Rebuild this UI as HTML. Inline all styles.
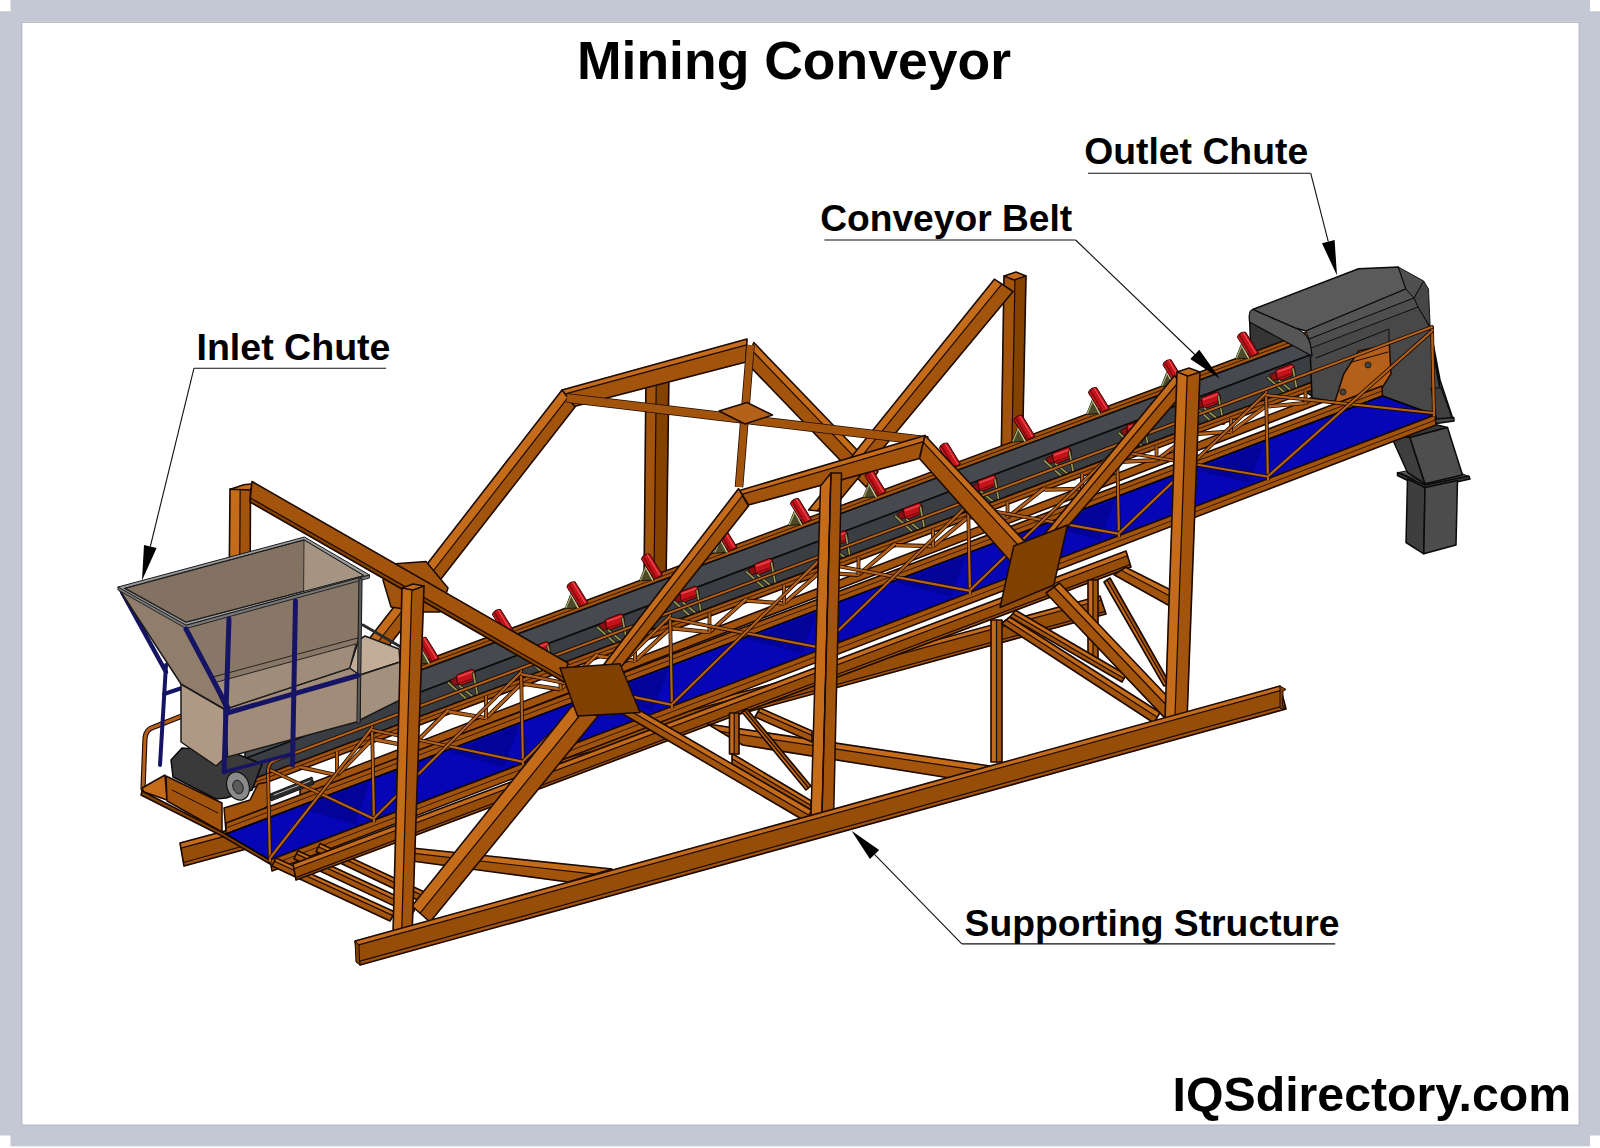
<!DOCTYPE html>
<html><head><meta charset="utf-8">
<style>
html,body{margin:0;padding:0;background:#fff;}
body{width:1600px;height:1148px;overflow:hidden;position:relative;font-family:"Liberation Sans",sans-serif;}
svg{position:absolute;left:0;top:0;}
text{font-family:"Liberation Sans",sans-serif;font-weight:bold;fill:#000;}
</style></head><body>
<svg width="1600" height="1148" viewBox="0 0 1600 1148">
<!-- FRAME -->
<g id="frame" fill="#c4c8d4">
<rect x="10.5" y="0" width="1579.5" height="21.5"/>
<rect x="0" y="11.3" width="21" height="1124.2"/>
<rect x="1580" y="11.3" width="20" height="1124.2"/>
<rect x="10.5" y="1125.3" width="1579.5" height="21"/>
</g>
<g id="bevel" fill="none" stroke="#b9bcc6" stroke-width="1.4"><path d="M21.7,1125.3 V22.2 H1579.3 V1125.3 Z"/></g>
<!-- DRAWING -->
<g id="drawing">
<g id="g_back">
<polygon points="180.0,843.0 1100.0,596.0 1101.3,600.0 180.9,848.1" fill="#c46c1a" stroke="#c46c1a" stroke-width="0.5" stroke-linejoin="round" />
<polygon points="180.9,848.1 1101.3,600.0 1105.1,611.3 183.4,862.5" fill="#954d07" stroke="#954d07" stroke-width="0.5" stroke-linejoin="round" />
<polygon points="183.4,862.5 1105.1,611.3 1106.0,614.0 184.0,866.0" fill="#a2540d" stroke="#a2540d" stroke-width="0.5" stroke-linejoin="round" />
<line x1="180.9" y1="848.1" x2="1101.3" y2="600.0" stroke="#1c0a00" stroke-width="1.2" stroke-linecap="round"/>
<line x1="183.4" y1="862.5" x2="1105.1" y2="611.3" stroke="#1c0a00" stroke-width="1.2" stroke-linecap="round"/>
<polygon points="180.0,843.0 1100.0,596.0 1106.0,614.0 184.0,866.0" fill="none" stroke="#1c0a00" stroke-width="1.6" stroke-linejoin="round" />
<polygon points="1249.5,316.0 1312.0,350.0 1312.0,396.0 1251.0,356.0" fill="#353535" stroke="#0a0a0a" stroke-width="1.5" stroke-linejoin="round" />
</g>
<g id="g_far">
<polygon points="230.0,489.0 229.0,600.0 239.5,600.0 240.2,489.0" fill="#c46c1a" stroke="#c46c1a" stroke-width="0.5" stroke-linejoin="round" />
<polygon points="240.2,489.0 239.5,600.0 250.0,600.0 250.5,489.0" fill="#a2540d" stroke="#a2540d" stroke-width="0.5" stroke-linejoin="round" />
<line x1="240.2" y1="489.0" x2="239.5" y2="600.0" stroke="#1c0a00" stroke-width="1.2" stroke-linecap="round"/>
<polygon points="230.0,489.0 229.0,600.0 250.0,600.0 250.5,489.0" fill="none" stroke="#1c0a00" stroke-width="1.6" stroke-linejoin="round" />
<polygon points="230.2,489.2 243.8,484.8 255.0,483.5 249.8,490.0" fill="#c46c1a" stroke="#1c0a00" stroke-width="1.5" stroke-linejoin="round" />
<polygon points="646.0,372.0 644.0,585.0 653.9,585.0 656.4,372.0" fill="#a2540d" stroke="#a2540d" stroke-width="0.5" stroke-linejoin="round" />
<polygon points="656.4,372.0 653.9,585.0 666.0,585.0 669.0,372.0" fill="#834200" stroke="#834200" stroke-width="0.5" stroke-linejoin="round" />
<line x1="656.4" y1="372.0" x2="653.9" y2="585.0" stroke="#1c0a00" stroke-width="1.2" stroke-linecap="round"/>
<polygon points="646.0,372.0 644.0,585.0 666.0,585.0 669.0,372.0" fill="none" stroke="#1c0a00" stroke-width="1.6" stroke-linejoin="round" />
<polygon points="1004.0,276.0 1001.0,470.0 1011.5,470.0 1015.0,276.0" fill="#a2540d" stroke="#a2540d" stroke-width="0.5" stroke-linejoin="round" />
<polygon points="1015.0,276.0 1011.5,470.0 1022.0,470.0 1026.0,276.0" fill="#834200" stroke="#834200" stroke-width="0.5" stroke-linejoin="round" />
<line x1="1015.0" y1="276.0" x2="1011.5" y2="470.0" stroke="#1c0a00" stroke-width="1.2" stroke-linecap="round"/>
<polygon points="1004.0,276.0 1001.0,470.0 1022.0,470.0 1026.0,276.0" fill="none" stroke="#1c0a00" stroke-width="1.6" stroke-linejoin="round" />
<polygon points="1004.0,276.0 1016.0,272.0 1026.0,276.0 1014.0,280.0" fill="#c46c1a" stroke="#1c0a00" stroke-width="1.5" stroke-linejoin="round" />
<polygon points="753.8,342.5 878.0,471.7 873.8,477.1 751.1,349.5" fill="#c46c1a" stroke="#c46c1a" stroke-width="0.5" stroke-linejoin="round" />
<polygon points="751.1,349.5 873.8,477.1 866.0,487.0 746.2,362.5" fill="#a2540d" stroke="#a2540d" stroke-width="0.5" stroke-linejoin="round" />
<line x1="751.1" y1="349.5" x2="873.8" y2="477.1" stroke="#1c0a00" stroke-width="1.2" stroke-linecap="round"/>
<polygon points="753.8,342.5 878.0,471.7 866.0,487.0 746.2,362.5" fill="none" stroke="#1c0a00" stroke-width="1.6" stroke-linejoin="round" />
<polygon points="994.4,279.2 808.6,510.0 817.2,510.8 1001.8,284.1" fill="#c46c1a" stroke="#c46c1a" stroke-width="0.5" stroke-linejoin="round" />
<polygon points="1001.8,284.1 817.2,510.8 830.0,512.0 1013.0,291.5" fill="#a2540d" stroke="#a2540d" stroke-width="0.5" stroke-linejoin="round" />
<line x1="1001.8" y1="284.1" x2="817.2" y2="510.8" stroke="#1c0a00" stroke-width="1.2" stroke-linecap="round"/>
<polygon points="994.4,279.2 808.6,510.0 830.0,512.0 1013.0,291.5" fill="none" stroke="#1c0a00" stroke-width="1.6" stroke-linejoin="round" />
<polygon points="562.0,390.0 747.0,339.0 746.8,344.8 564.5,394.2" fill="#c46c1a" stroke="#c46c1a" stroke-width="0.5" stroke-linejoin="round" />
<polygon points="564.5,394.2 746.8,344.8 746.0,362.0 572.0,407.0" fill="#a2540d" stroke="#a2540d" stroke-width="0.5" stroke-linejoin="round" />
<line x1="564.5" y1="394.2" x2="746.8" y2="344.8" stroke="#1c0a00" stroke-width="1.2" stroke-linecap="round"/>
<polygon points="562.0,390.0 747.0,339.0 746.0,362.0 572.0,407.0" fill="none" stroke="#1c0a00" stroke-width="1.6" stroke-linejoin="round" />
<polygon points="562.0,390.0 352.0,661.0 363.2,661.0 567.9,397.6" fill="#c46c1a" stroke="#c46c1a" stroke-width="0.5" stroke-linejoin="round" />
<polygon points="567.9,397.6 363.2,661.0 377.0,661.0 575.0,407.0" fill="#a2540d" stroke="#a2540d" stroke-width="0.5" stroke-linejoin="round" />
<line x1="567.9" y1="397.6" x2="363.2" y2="661.0" stroke="#1c0a00" stroke-width="1.2" stroke-linecap="round"/>
<polygon points="562.0,390.0 352.0,661.0 377.0,661.0 575.0,407.0" fill="none" stroke="#1c0a00" stroke-width="1.6" stroke-linejoin="round" />
<polygon points="383.0,580.0 392.0,564.0 426.0,561.6 448.0,588.0 440.0,612.0 425.0,612.0 391.0,607.0" fill="#a0540e" stroke="#1c0a00" stroke-width="1.5" stroke-linejoin="round" />
<line x1="567.0" y1="398.0" x2="928.0" y2="441.0" stroke="#1c0a00" stroke-width="9.6" stroke-linecap="butt"/>
<line x1="567.0" y1="398.0" x2="928.0" y2="441.0" stroke="#a2540d" stroke-width="8" stroke-linecap="butt"/>
<line x1="750.5" y1="345.0" x2="739.0" y2="487.0" stroke="#1c0a00" stroke-width="8.6" stroke-linecap="butt"/>
<line x1="750.5" y1="345.0" x2="739.0" y2="487.0" stroke="#a2540d" stroke-width="7" stroke-linecap="butt"/>
<polygon points="719.0,411.0 747.0,402.5 772.5,415.0 745.0,424.0" fill="#b4621a" stroke="#1c0a00" stroke-width="1.5" stroke-linejoin="round" />
</g>
<g id="g_conv">
<polygon points="245.0,727.6 1312.0,330.2 1312.0,338.2 245.0,735.6" fill="#a2540d" stroke="#1c0a00" stroke-width="1.5" stroke-linejoin="round" />
<line x1="245.0" y1="731.6" x2="1312.0" y2="334.2" stroke="#1c0a00" stroke-width="0.8" stroke-linecap="round"/>
<polygon points="1235.5,359.0 1241.5,344.0 1249.5,358.0" fill="#4a4a2a" stroke="#1a1a08" stroke-width="1" stroke-linejoin="round" />
<line x1="1241.5" y1="345.0" x2="1248.5" y2="358.0" stroke="#c8c890" stroke-width="1.4" stroke-linecap="round"/>
<line x1="1236.5" y1="358.0" x2="1241.5" y2="346.0" stroke="#a8a870" stroke-width="1.2" stroke-linecap="round"/>
<path d="M1237.5,337.0 Q1238.5,332.0 1245.5,332.0 L1258.5,353.0 L1250.5,357.0 Z" fill="#c4121a" stroke="#300" stroke-width="1" stroke-linejoin="round" stroke-linecap="round" />
<line x1="1239.5" y1="335.0" x2="1251.5" y2="356.0" stroke="#7a0a0e" stroke-width="1.4" stroke-linecap="round"/>
<line x1="1243.5" y1="333.0" x2="1255.5" y2="353.0" stroke="#e8484e" stroke-width="1.4" stroke-linecap="round"/>
<polygon points="1161.0,386.7 1167.0,371.7 1175.0,385.7" fill="#4a4a2a" stroke="#1a1a08" stroke-width="1" stroke-linejoin="round" />
<line x1="1167.0" y1="372.7" x2="1174.0" y2="385.7" stroke="#c8c890" stroke-width="1.4" stroke-linecap="round"/>
<line x1="1162.0" y1="385.7" x2="1167.0" y2="373.7" stroke="#a8a870" stroke-width="1.2" stroke-linecap="round"/>
<path d="M1163.0,364.7 Q1164.0,359.7 1171.0,359.7 L1184.0,380.7 L1176.0,384.7 Z" fill="#c4121a" stroke="#300" stroke-width="1" stroke-linejoin="round" stroke-linecap="round" />
<line x1="1165.0" y1="362.7" x2="1177.0" y2="383.7" stroke="#7a0a0e" stroke-width="1.4" stroke-linecap="round"/>
<line x1="1169.0" y1="360.7" x2="1181.0" y2="380.7" stroke="#e8484e" stroke-width="1.4" stroke-linecap="round"/>
<polygon points="1086.5,414.5 1092.5,399.5 1100.5,413.5" fill="#4a4a2a" stroke="#1a1a08" stroke-width="1" stroke-linejoin="round" />
<line x1="1092.5" y1="400.5" x2="1099.5" y2="413.5" stroke="#c8c890" stroke-width="1.4" stroke-linecap="round"/>
<line x1="1087.5" y1="413.5" x2="1092.5" y2="401.5" stroke="#a8a870" stroke-width="1.2" stroke-linecap="round"/>
<path d="M1088.5,392.5 Q1089.5,387.5 1096.5,387.5 L1109.5,408.5 L1101.5,412.5 Z" fill="#c4121a" stroke="#300" stroke-width="1" stroke-linejoin="round" stroke-linecap="round" />
<line x1="1090.5" y1="390.5" x2="1102.5" y2="411.5" stroke="#7a0a0e" stroke-width="1.4" stroke-linecap="round"/>
<line x1="1094.5" y1="388.5" x2="1106.5" y2="408.5" stroke="#e8484e" stroke-width="1.4" stroke-linecap="round"/>
<polygon points="1012.0,442.2 1018.0,427.2 1026.0,441.2" fill="#4a4a2a" stroke="#1a1a08" stroke-width="1" stroke-linejoin="round" />
<line x1="1018.0" y1="428.2" x2="1025.0" y2="441.2" stroke="#c8c890" stroke-width="1.4" stroke-linecap="round"/>
<line x1="1013.0" y1="441.2" x2="1018.0" y2="429.2" stroke="#a8a870" stroke-width="1.2" stroke-linecap="round"/>
<path d="M1014.0,420.2 Q1015.0,415.2 1022.0,415.2 L1035.0,436.2 L1027.0,440.2 Z" fill="#c4121a" stroke="#300" stroke-width="1" stroke-linejoin="round" stroke-linecap="round" />
<line x1="1016.0" y1="418.2" x2="1028.0" y2="439.2" stroke="#7a0a0e" stroke-width="1.4" stroke-linecap="round"/>
<line x1="1020.0" y1="416.2" x2="1032.0" y2="436.2" stroke="#e8484e" stroke-width="1.4" stroke-linecap="round"/>
<polygon points="937.5,470.0 943.5,455.0 951.5,469.0" fill="#4a4a2a" stroke="#1a1a08" stroke-width="1" stroke-linejoin="round" />
<line x1="943.5" y1="456.0" x2="950.5" y2="469.0" stroke="#c8c890" stroke-width="1.4" stroke-linecap="round"/>
<line x1="938.5" y1="469.0" x2="943.5" y2="457.0" stroke="#a8a870" stroke-width="1.2" stroke-linecap="round"/>
<path d="M939.5,448.0 Q940.5,443.0 947.5,443.0 L960.5,464.0 L952.5,468.0 Z" fill="#c4121a" stroke="#300" stroke-width="1" stroke-linejoin="round" stroke-linecap="round" />
<line x1="941.5" y1="446.0" x2="953.5" y2="467.0" stroke="#7a0a0e" stroke-width="1.4" stroke-linecap="round"/>
<line x1="945.5" y1="444.0" x2="957.5" y2="464.0" stroke="#e8484e" stroke-width="1.4" stroke-linecap="round"/>
<polygon points="863.0,497.7 869.0,482.7 877.0,496.7" fill="#4a4a2a" stroke="#1a1a08" stroke-width="1" stroke-linejoin="round" />
<line x1="869.0" y1="483.7" x2="876.0" y2="496.7" stroke="#c8c890" stroke-width="1.4" stroke-linecap="round"/>
<line x1="864.0" y1="496.7" x2="869.0" y2="484.7" stroke="#a8a870" stroke-width="1.2" stroke-linecap="round"/>
<path d="M865.0,475.7 Q866.0,470.7 873.0,470.7 L886.0,491.7 L878.0,495.7 Z" fill="#c4121a" stroke="#300" stroke-width="1" stroke-linejoin="round" stroke-linecap="round" />
<line x1="867.0" y1="473.7" x2="879.0" y2="494.7" stroke="#7a0a0e" stroke-width="1.4" stroke-linecap="round"/>
<line x1="871.0" y1="471.7" x2="883.0" y2="491.7" stroke="#e8484e" stroke-width="1.4" stroke-linecap="round"/>
<polygon points="788.5,525.5 794.5,510.5 802.5,524.5" fill="#4a4a2a" stroke="#1a1a08" stroke-width="1" stroke-linejoin="round" />
<line x1="794.5" y1="511.5" x2="801.5" y2="524.5" stroke="#c8c890" stroke-width="1.4" stroke-linecap="round"/>
<line x1="789.5" y1="524.5" x2="794.5" y2="512.5" stroke="#a8a870" stroke-width="1.2" stroke-linecap="round"/>
<path d="M790.5,503.5 Q791.5,498.5 798.5,498.5 L811.5,519.5 L803.5,523.5 Z" fill="#c4121a" stroke="#300" stroke-width="1" stroke-linejoin="round" stroke-linecap="round" />
<line x1="792.5" y1="501.5" x2="804.5" y2="522.5" stroke="#7a0a0e" stroke-width="1.4" stroke-linecap="round"/>
<line x1="796.5" y1="499.5" x2="808.5" y2="519.5" stroke="#e8484e" stroke-width="1.4" stroke-linecap="round"/>
<polygon points="714.0,553.2 720.0,538.2 728.0,552.2" fill="#4a4a2a" stroke="#1a1a08" stroke-width="1" stroke-linejoin="round" />
<line x1="720.0" y1="539.2" x2="727.0" y2="552.2" stroke="#c8c890" stroke-width="1.4" stroke-linecap="round"/>
<line x1="715.0" y1="552.2" x2="720.0" y2="540.2" stroke="#a8a870" stroke-width="1.2" stroke-linecap="round"/>
<path d="M716.0,531.2 Q717.0,526.2 724.0,526.2 L737.0,547.2 L729.0,551.2 Z" fill="#c4121a" stroke="#300" stroke-width="1" stroke-linejoin="round" stroke-linecap="round" />
<line x1="718.0" y1="529.2" x2="730.0" y2="550.2" stroke="#7a0a0e" stroke-width="1.4" stroke-linecap="round"/>
<line x1="722.0" y1="527.2" x2="734.0" y2="547.2" stroke="#e8484e" stroke-width="1.4" stroke-linecap="round"/>
<polygon points="639.5,580.9 645.5,565.9 653.5,579.9" fill="#4a4a2a" stroke="#1a1a08" stroke-width="1" stroke-linejoin="round" />
<line x1="645.5" y1="566.9" x2="652.5" y2="579.9" stroke="#c8c890" stroke-width="1.4" stroke-linecap="round"/>
<line x1="640.5" y1="579.9" x2="645.5" y2="567.9" stroke="#a8a870" stroke-width="1.2" stroke-linecap="round"/>
<path d="M641.5,558.9 Q642.5,553.9 649.5,553.9 L662.5,574.9 L654.5,578.9 Z" fill="#c4121a" stroke="#300" stroke-width="1" stroke-linejoin="round" stroke-linecap="round" />
<line x1="643.5" y1="556.9" x2="655.5" y2="577.9" stroke="#7a0a0e" stroke-width="1.4" stroke-linecap="round"/>
<line x1="647.5" y1="554.9" x2="659.5" y2="574.9" stroke="#e8484e" stroke-width="1.4" stroke-linecap="round"/>
<polygon points="565.0,608.7 571.0,593.7 579.0,607.7" fill="#4a4a2a" stroke="#1a1a08" stroke-width="1" stroke-linejoin="round" />
<line x1="571.0" y1="594.7" x2="578.0" y2="607.7" stroke="#c8c890" stroke-width="1.4" stroke-linecap="round"/>
<line x1="566.0" y1="607.7" x2="571.0" y2="595.7" stroke="#a8a870" stroke-width="1.2" stroke-linecap="round"/>
<path d="M567.0,586.7 Q568.0,581.7 575.0,581.7 L588.0,602.7 L580.0,606.7 Z" fill="#c4121a" stroke="#300" stroke-width="1" stroke-linejoin="round" stroke-linecap="round" />
<line x1="569.0" y1="584.7" x2="581.0" y2="605.7" stroke="#7a0a0e" stroke-width="1.4" stroke-linecap="round"/>
<line x1="573.0" y1="582.7" x2="585.0" y2="602.7" stroke="#e8484e" stroke-width="1.4" stroke-linecap="round"/>
<polygon points="490.5,636.4 496.5,621.4 504.5,635.4" fill="#4a4a2a" stroke="#1a1a08" stroke-width="1" stroke-linejoin="round" />
<line x1="496.5" y1="622.4" x2="503.5" y2="635.4" stroke="#c8c890" stroke-width="1.4" stroke-linecap="round"/>
<line x1="491.5" y1="635.4" x2="496.5" y2="623.4" stroke="#a8a870" stroke-width="1.2" stroke-linecap="round"/>
<path d="M492.5,614.4 Q493.5,609.4 500.5,609.4 L513.5,630.4 L505.5,634.4 Z" fill="#c4121a" stroke="#300" stroke-width="1" stroke-linejoin="round" stroke-linecap="round" />
<line x1="494.5" y1="612.4" x2="506.5" y2="633.4" stroke="#7a0a0e" stroke-width="1.4" stroke-linecap="round"/>
<line x1="498.5" y1="610.4" x2="510.5" y2="630.4" stroke="#e8484e" stroke-width="1.4" stroke-linecap="round"/>
<polygon points="416.0,664.2 422.0,649.2 430.0,663.2" fill="#4a4a2a" stroke="#1a1a08" stroke-width="1" stroke-linejoin="round" />
<line x1="422.0" y1="650.2" x2="429.0" y2="663.2" stroke="#c8c890" stroke-width="1.4" stroke-linecap="round"/>
<line x1="417.0" y1="663.2" x2="422.0" y2="651.2" stroke="#a8a870" stroke-width="1.2" stroke-linecap="round"/>
<path d="M418.0,642.2 Q419.0,637.2 426.0,637.2 L439.0,658.2 L431.0,662.2 Z" fill="#c4121a" stroke="#300" stroke-width="1" stroke-linejoin="round" stroke-linecap="round" />
<line x1="420.0" y1="640.2" x2="432.0" y2="661.2" stroke="#7a0a0e" stroke-width="1.4" stroke-linecap="round"/>
<line x1="424.0" y1="638.2" x2="436.0" y2="658.2" stroke="#e8484e" stroke-width="1.4" stroke-linecap="round"/>
<polygon points="245.0,735.6 1312.0,338.2 1312.0,354.2 245.0,758.6" fill="#46494d" stroke="#0c0c0c" stroke-width="1.5" stroke-linejoin="round" />
<polygon points="245.0,758.6 1312.0,354.2 1312.0,382.2 245.0,782.1" fill="#3a3d41" stroke="#0c0c0c" stroke-width="1.5" stroke-linejoin="round" />
<path d="M1270.0,374.7 L1277.0,371.7 L1279.0,378.7 L1273.0,380.7 Z" fill="#8a1014" stroke="#300" stroke-width="0.8" stroke-linejoin="round" stroke-linecap="round" />
<path d="M1276.0,372.7 Q1275.0,369.7 1278.0,369.2 L1291.0,364.2 Q1294.0,364.7 1294.5,367.7 L1295.0,371.7 Q1295.0,374.7 1292.0,375.7 L1281.0,380.2 Q1278.0,380.7 1277.0,377.7 Z" fill="#c4121a" stroke="#300" stroke-width="1" stroke-linejoin="round" stroke-linecap="round" />
<line x1="1278.0" y1="371.7" x2="1292.0" y2="366.7" stroke="#e8484e" stroke-width="1.6" stroke-linecap="round"/>
<line x1="1279.0" y1="378.2" x2="1293.0" y2="373.2" stroke="#7a0a0e" stroke-width="1.4" stroke-linecap="round"/>
<path d="M1268.0,377.7 L1288.0,395.7 M1293.0,368.7 L1298.0,395.7 M1279.0,380.7 L1295.0,393.7" fill="none" stroke="#20200a" stroke-width="3.2" stroke-linejoin="round" stroke-linecap="round" />
<path d="M1268.0,377.7 L1288.0,395.7 M1293.0,368.7 L1298.0,395.7 M1279.0,380.7 L1295.0,393.7" fill="none" stroke="#9a9a58" stroke-width="1.6" stroke-linejoin="round" stroke-linecap="round" />
<path d="M1195.5,402.4 L1202.5,399.4 L1204.5,406.4 L1198.5,408.4 Z" fill="#8a1014" stroke="#300" stroke-width="0.8" stroke-linejoin="round" stroke-linecap="round" />
<path d="M1201.5,400.4 Q1200.5,397.4 1203.5,396.9 L1216.5,391.9 Q1219.5,392.4 1220.0,395.4 L1220.5,399.4 Q1220.5,402.4 1217.5,403.4 L1206.5,407.9 Q1203.5,408.4 1202.5,405.4 Z" fill="#c4121a" stroke="#300" stroke-width="1" stroke-linejoin="round" stroke-linecap="round" />
<line x1="1203.5" y1="399.4" x2="1217.5" y2="394.4" stroke="#e8484e" stroke-width="1.6" stroke-linecap="round"/>
<line x1="1204.5" y1="405.9" x2="1218.5" y2="400.9" stroke="#7a0a0e" stroke-width="1.4" stroke-linecap="round"/>
<path d="M1193.5,405.4 L1213.5,423.4 M1218.5,396.4 L1223.5,423.4 M1204.5,408.4 L1220.5,421.4" fill="none" stroke="#20200a" stroke-width="3.2" stroke-linejoin="round" stroke-linecap="round" />
<path d="M1193.5,405.4 L1213.5,423.4 M1218.5,396.4 L1223.5,423.4 M1204.5,408.4 L1220.5,421.4" fill="none" stroke="#9a9a58" stroke-width="1.6" stroke-linejoin="round" stroke-linecap="round" />
<path d="M1121.0,430.1 L1128.0,427.1 L1130.0,434.1 L1124.0,436.1 Z" fill="#8a1014" stroke="#300" stroke-width="0.8" stroke-linejoin="round" stroke-linecap="round" />
<path d="M1127.0,428.1 Q1126.0,425.1 1129.0,424.6 L1142.0,419.6 Q1145.0,420.1 1145.5,423.1 L1146.0,427.1 Q1146.0,430.1 1143.0,431.1 L1132.0,435.6 Q1129.0,436.1 1128.0,433.1 Z" fill="#c4121a" stroke="#300" stroke-width="1" stroke-linejoin="round" stroke-linecap="round" />
<line x1="1129.0" y1="427.1" x2="1143.0" y2="422.1" stroke="#e8484e" stroke-width="1.6" stroke-linecap="round"/>
<line x1="1130.0" y1="433.6" x2="1144.0" y2="428.6" stroke="#7a0a0e" stroke-width="1.4" stroke-linecap="round"/>
<path d="M1119.0,433.1 L1139.0,451.1 M1144.0,424.1 L1149.0,451.1 M1130.0,436.1 L1146.0,449.1" fill="none" stroke="#20200a" stroke-width="3.2" stroke-linejoin="round" stroke-linecap="round" />
<path d="M1119.0,433.1 L1139.0,451.1 M1144.0,424.1 L1149.0,451.1 M1130.0,436.1 L1146.0,449.1" fill="none" stroke="#9a9a58" stroke-width="1.6" stroke-linejoin="round" stroke-linecap="round" />
<path d="M1046.5,457.9 L1053.5,454.9 L1055.5,461.9 L1049.5,463.9 Z" fill="#8a1014" stroke="#300" stroke-width="0.8" stroke-linejoin="round" stroke-linecap="round" />
<path d="M1052.5,455.9 Q1051.5,452.9 1054.5,452.4 L1067.5,447.4 Q1070.5,447.9 1071.0,450.9 L1071.5,454.9 Q1071.5,457.9 1068.5,458.9 L1057.5,463.4 Q1054.5,463.9 1053.5,460.9 Z" fill="#c4121a" stroke="#300" stroke-width="1" stroke-linejoin="round" stroke-linecap="round" />
<line x1="1054.5" y1="454.9" x2="1068.5" y2="449.9" stroke="#e8484e" stroke-width="1.6" stroke-linecap="round"/>
<line x1="1055.5" y1="461.4" x2="1069.5" y2="456.4" stroke="#7a0a0e" stroke-width="1.4" stroke-linecap="round"/>
<path d="M1044.5,460.9 L1064.5,478.9 M1069.5,451.9 L1074.5,478.9 M1055.5,463.9 L1071.5,476.9" fill="none" stroke="#20200a" stroke-width="3.2" stroke-linejoin="round" stroke-linecap="round" />
<path d="M1044.5,460.9 L1064.5,478.9 M1069.5,451.9 L1074.5,478.9 M1055.5,463.9 L1071.5,476.9" fill="none" stroke="#9a9a58" stroke-width="1.6" stroke-linejoin="round" stroke-linecap="round" />
<path d="M972.0,485.6 L979.0,482.6 L981.0,489.6 L975.0,491.6 Z" fill="#8a1014" stroke="#300" stroke-width="0.8" stroke-linejoin="round" stroke-linecap="round" />
<path d="M978.0,483.6 Q977.0,480.6 980.0,480.1 L993.0,475.1 Q996.0,475.6 996.5,478.6 L997.0,482.6 Q997.0,485.6 994.0,486.6 L983.0,491.1 Q980.0,491.6 979.0,488.6 Z" fill="#c4121a" stroke="#300" stroke-width="1" stroke-linejoin="round" stroke-linecap="round" />
<line x1="980.0" y1="482.6" x2="994.0" y2="477.6" stroke="#e8484e" stroke-width="1.6" stroke-linecap="round"/>
<line x1="981.0" y1="489.1" x2="995.0" y2="484.1" stroke="#7a0a0e" stroke-width="1.4" stroke-linecap="round"/>
<path d="M970.0,488.6 L990.0,506.6 M995.0,479.6 L1000.0,506.6 M981.0,491.6 L997.0,504.6" fill="none" stroke="#20200a" stroke-width="3.2" stroke-linejoin="round" stroke-linecap="round" />
<path d="M970.0,488.6 L990.0,506.6 M995.0,479.6 L1000.0,506.6 M981.0,491.6 L997.0,504.6" fill="none" stroke="#9a9a58" stroke-width="1.6" stroke-linejoin="round" stroke-linecap="round" />
<path d="M897.5,513.4 L904.5,510.4 L906.5,517.4 L900.5,519.4 Z" fill="#8a1014" stroke="#300" stroke-width="0.8" stroke-linejoin="round" stroke-linecap="round" />
<path d="M903.5,511.4 Q902.5,508.4 905.5,507.9 L918.5,502.9 Q921.5,503.4 922.0,506.4 L922.5,510.4 Q922.5,513.4 919.5,514.4 L908.5,518.9 Q905.5,519.4 904.5,516.4 Z" fill="#c4121a" stroke="#300" stroke-width="1" stroke-linejoin="round" stroke-linecap="round" />
<line x1="905.5" y1="510.4" x2="919.5" y2="505.4" stroke="#e8484e" stroke-width="1.6" stroke-linecap="round"/>
<line x1="906.5" y1="516.9" x2="920.5" y2="511.9" stroke="#7a0a0e" stroke-width="1.4" stroke-linecap="round"/>
<path d="M895.5,516.4 L915.5,534.4 M920.5,507.4 L925.5,534.4 M906.5,519.4 L922.5,532.4" fill="none" stroke="#20200a" stroke-width="3.2" stroke-linejoin="round" stroke-linecap="round" />
<path d="M895.5,516.4 L915.5,534.4 M920.5,507.4 L925.5,534.4 M906.5,519.4 L922.5,532.4" fill="none" stroke="#9a9a58" stroke-width="1.6" stroke-linejoin="round" stroke-linecap="round" />
<path d="M823.0,541.1 L830.0,538.1 L832.0,545.1 L826.0,547.1 Z" fill="#8a1014" stroke="#300" stroke-width="0.8" stroke-linejoin="round" stroke-linecap="round" />
<path d="M829.0,539.1 Q828.0,536.1 831.0,535.6 L844.0,530.6 Q847.0,531.1 847.5,534.1 L848.0,538.1 Q848.0,541.1 845.0,542.1 L834.0,546.6 Q831.0,547.1 830.0,544.1 Z" fill="#c4121a" stroke="#300" stroke-width="1" stroke-linejoin="round" stroke-linecap="round" />
<line x1="831.0" y1="538.1" x2="845.0" y2="533.1" stroke="#e8484e" stroke-width="1.6" stroke-linecap="round"/>
<line x1="832.0" y1="544.6" x2="846.0" y2="539.6" stroke="#7a0a0e" stroke-width="1.4" stroke-linecap="round"/>
<path d="M821.0,544.1 L841.0,562.1 M846.0,535.1 L851.0,562.1 M832.0,547.1 L848.0,560.1" fill="none" stroke="#20200a" stroke-width="3.2" stroke-linejoin="round" stroke-linecap="round" />
<path d="M821.0,544.1 L841.0,562.1 M846.0,535.1 L851.0,562.1 M832.0,547.1 L848.0,560.1" fill="none" stroke="#9a9a58" stroke-width="1.6" stroke-linejoin="round" stroke-linecap="round" />
<path d="M748.5,568.9 L755.5,565.9 L757.5,572.9 L751.5,574.9 Z" fill="#8a1014" stroke="#300" stroke-width="0.8" stroke-linejoin="round" stroke-linecap="round" />
<path d="M754.5,566.9 Q753.5,563.9 756.5,563.4 L769.5,558.4 Q772.5,558.9 773.0,561.9 L773.5,565.9 Q773.5,568.9 770.5,569.9 L759.5,574.4 Q756.5,574.9 755.5,571.9 Z" fill="#c4121a" stroke="#300" stroke-width="1" stroke-linejoin="round" stroke-linecap="round" />
<line x1="756.5" y1="565.9" x2="770.5" y2="560.9" stroke="#e8484e" stroke-width="1.6" stroke-linecap="round"/>
<line x1="757.5" y1="572.4" x2="771.5" y2="567.4" stroke="#7a0a0e" stroke-width="1.4" stroke-linecap="round"/>
<path d="M746.5,571.9 L766.5,589.9 M771.5,562.9 L776.5,589.9 M757.5,574.9 L773.5,587.9" fill="none" stroke="#20200a" stroke-width="3.2" stroke-linejoin="round" stroke-linecap="round" />
<path d="M746.5,571.9 L766.5,589.9 M771.5,562.9 L776.5,589.9 M757.5,574.9 L773.5,587.9" fill="none" stroke="#9a9a58" stroke-width="1.6" stroke-linejoin="round" stroke-linecap="round" />
<path d="M674.0,596.6 L681.0,593.6 L683.0,600.6 L677.0,602.6 Z" fill="#8a1014" stroke="#300" stroke-width="0.8" stroke-linejoin="round" stroke-linecap="round" />
<path d="M680.0,594.6 Q679.0,591.6 682.0,591.1 L695.0,586.1 Q698.0,586.6 698.5,589.6 L699.0,593.6 Q699.0,596.6 696.0,597.6 L685.0,602.1 Q682.0,602.6 681.0,599.6 Z" fill="#c4121a" stroke="#300" stroke-width="1" stroke-linejoin="round" stroke-linecap="round" />
<line x1="682.0" y1="593.6" x2="696.0" y2="588.6" stroke="#e8484e" stroke-width="1.6" stroke-linecap="round"/>
<line x1="683.0" y1="600.1" x2="697.0" y2="595.1" stroke="#7a0a0e" stroke-width="1.4" stroke-linecap="round"/>
<path d="M672.0,599.6 L692.0,617.6 M697.0,590.6 L702.0,617.6 M683.0,602.6 L699.0,615.6" fill="none" stroke="#20200a" stroke-width="3.2" stroke-linejoin="round" stroke-linecap="round" />
<path d="M672.0,599.6 L692.0,617.6 M697.0,590.6 L702.0,617.6 M683.0,602.6 L699.0,615.6" fill="none" stroke="#9a9a58" stroke-width="1.6" stroke-linejoin="round" stroke-linecap="round" />
<path d="M599.5,624.3 L606.5,621.3 L608.5,628.3 L602.5,630.3 Z" fill="#8a1014" stroke="#300" stroke-width="0.8" stroke-linejoin="round" stroke-linecap="round" />
<path d="M605.5,622.3 Q604.5,619.3 607.5,618.8 L620.5,613.8 Q623.5,614.3 624.0,617.3 L624.5,621.3 Q624.5,624.3 621.5,625.3 L610.5,629.8 Q607.5,630.3 606.5,627.3 Z" fill="#c4121a" stroke="#300" stroke-width="1" stroke-linejoin="round" stroke-linecap="round" />
<line x1="607.5" y1="621.3" x2="621.5" y2="616.3" stroke="#e8484e" stroke-width="1.6" stroke-linecap="round"/>
<line x1="608.5" y1="627.8" x2="622.5" y2="622.8" stroke="#7a0a0e" stroke-width="1.4" stroke-linecap="round"/>
<path d="M597.5,627.3 L617.5,645.3 M622.5,618.3 L627.5,645.3 M608.5,630.3 L624.5,643.3" fill="none" stroke="#20200a" stroke-width="3.2" stroke-linejoin="round" stroke-linecap="round" />
<path d="M597.5,627.3 L617.5,645.3 M622.5,618.3 L627.5,645.3 M608.5,630.3 L624.5,643.3" fill="none" stroke="#9a9a58" stroke-width="1.6" stroke-linejoin="round" stroke-linecap="round" />
<path d="M525.0,652.1 L532.0,649.1 L534.0,656.1 L528.0,658.1 Z" fill="#8a1014" stroke="#300" stroke-width="0.8" stroke-linejoin="round" stroke-linecap="round" />
<path d="M531.0,650.1 Q530.0,647.1 533.0,646.6 L546.0,641.6 Q549.0,642.1 549.5,645.1 L550.0,649.1 Q550.0,652.1 547.0,653.1 L536.0,657.6 Q533.0,658.1 532.0,655.1 Z" fill="#c4121a" stroke="#300" stroke-width="1" stroke-linejoin="round" stroke-linecap="round" />
<line x1="533.0" y1="649.1" x2="547.0" y2="644.1" stroke="#e8484e" stroke-width="1.6" stroke-linecap="round"/>
<line x1="534.0" y1="655.6" x2="548.0" y2="650.6" stroke="#7a0a0e" stroke-width="1.4" stroke-linecap="round"/>
<path d="M523.0,655.1 L543.0,673.1 M548.0,646.1 L553.0,673.1 M534.0,658.1 L550.0,671.1" fill="none" stroke="#20200a" stroke-width="3.2" stroke-linejoin="round" stroke-linecap="round" />
<path d="M523.0,655.1 L543.0,673.1 M548.0,646.1 L553.0,673.1 M534.0,658.1 L550.0,671.1" fill="none" stroke="#9a9a58" stroke-width="1.6" stroke-linejoin="round" stroke-linecap="round" />
<path d="M450.5,679.8 L457.5,676.8 L459.5,683.8 L453.5,685.8 Z" fill="#8a1014" stroke="#300" stroke-width="0.8" stroke-linejoin="round" stroke-linecap="round" />
<path d="M456.5,677.8 Q455.5,674.8 458.5,674.3 L471.5,669.3 Q474.5,669.8 475.0,672.8 L475.5,676.8 Q475.5,679.8 472.5,680.8 L461.5,685.3 Q458.5,685.8 457.5,682.8 Z" fill="#c4121a" stroke="#300" stroke-width="1" stroke-linejoin="round" stroke-linecap="round" />
<line x1="458.5" y1="676.8" x2="472.5" y2="671.8" stroke="#e8484e" stroke-width="1.6" stroke-linecap="round"/>
<line x1="459.5" y1="683.3" x2="473.5" y2="678.3" stroke="#7a0a0e" stroke-width="1.4" stroke-linecap="round"/>
<path d="M448.5,682.8 L468.5,700.8 M473.5,673.8 L478.5,700.8 M459.5,685.8 L475.5,698.8" fill="none" stroke="#20200a" stroke-width="3.2" stroke-linejoin="round" stroke-linecap="round" />
<path d="M448.5,682.8 L468.5,700.8 M473.5,673.8 L478.5,700.8 M459.5,685.8 L475.5,698.8" fill="none" stroke="#9a9a58" stroke-width="1.6" stroke-linejoin="round" stroke-linecap="round" />
<polygon points="245.0,782.1 1312.0,382.2 1312.0,390.2 245.0,790.6" fill="#a2540d" stroke="#1c0a00" stroke-width="1.5" stroke-linejoin="round" />
<line x1="245.0" y1="786.1" x2="1312.0" y2="386.2" stroke="#1c0a00" stroke-width="0.8" stroke-linecap="round"/>
<polygon points="300.0,787.5 1330.0,391.5 1330.0,399.5 300.0,796.5" fill="#a2540d" stroke="#1c0a00" stroke-width="1.5" stroke-linejoin="round" />
<line x1="300.0" y1="767.1" x2="337.0" y2="775.3" stroke="#1c0a00" stroke-width="4.2" stroke-linecap="butt"/>
<line x1="300.0" y1="767.1" x2="337.0" y2="775.3" stroke="#b4621a" stroke-width="2.6" stroke-linecap="butt"/>
<line x1="337.0" y1="775.3" x2="374.0" y2="737.6" stroke="#1c0a00" stroke-width="4.2" stroke-linecap="butt"/>
<line x1="337.0" y1="775.3" x2="374.0" y2="737.6" stroke="#b4621a" stroke-width="2.6" stroke-linecap="butt"/>
<line x1="337.0" y1="751.3" x2="337.0" y2="775.3" stroke="#1c0a00" stroke-width="3.8000000000000003" stroke-linecap="butt"/>
<line x1="337.0" y1="751.3" x2="337.0" y2="775.3" stroke="#b4621a" stroke-width="2.2" stroke-linecap="butt"/>
<line x1="374.5" y1="739.4" x2="411.5" y2="746.6" stroke="#1c0a00" stroke-width="4.2" stroke-linecap="butt"/>
<line x1="374.5" y1="739.4" x2="411.5" y2="746.6" stroke="#b4621a" stroke-width="2.6" stroke-linecap="butt"/>
<line x1="411.5" y1="746.6" x2="448.5" y2="709.8" stroke="#1c0a00" stroke-width="4.2" stroke-linecap="butt"/>
<line x1="411.5" y1="746.6" x2="448.5" y2="709.8" stroke="#b4621a" stroke-width="2.6" stroke-linecap="butt"/>
<line x1="411.5" y1="723.6" x2="411.5" y2="746.6" stroke="#1c0a00" stroke-width="3.8000000000000003" stroke-linecap="butt"/>
<line x1="411.5" y1="723.6" x2="411.5" y2="746.6" stroke="#b4621a" stroke-width="2.2" stroke-linecap="butt"/>
<line x1="449.0" y1="711.6" x2="486.0" y2="718.0" stroke="#1c0a00" stroke-width="4.2" stroke-linecap="butt"/>
<line x1="449.0" y1="711.6" x2="486.0" y2="718.0" stroke="#b4621a" stroke-width="2.6" stroke-linecap="butt"/>
<line x1="486.0" y1="718.0" x2="523.0" y2="682.1" stroke="#1c0a00" stroke-width="4.2" stroke-linecap="butt"/>
<line x1="486.0" y1="718.0" x2="523.0" y2="682.1" stroke="#b4621a" stroke-width="2.6" stroke-linecap="butt"/>
<line x1="486.0" y1="695.8" x2="486.0" y2="718.0" stroke="#1c0a00" stroke-width="3.8000000000000003" stroke-linecap="butt"/>
<line x1="486.0" y1="695.8" x2="486.0" y2="718.0" stroke="#b4621a" stroke-width="2.2" stroke-linecap="butt"/>
<line x1="523.5" y1="683.9" x2="560.5" y2="689.3" stroke="#1c0a00" stroke-width="4.2" stroke-linecap="butt"/>
<line x1="523.5" y1="683.9" x2="560.5" y2="689.3" stroke="#b4621a" stroke-width="2.6" stroke-linecap="butt"/>
<line x1="560.5" y1="689.3" x2="597.5" y2="654.3" stroke="#1c0a00" stroke-width="4.2" stroke-linecap="butt"/>
<line x1="560.5" y1="689.3" x2="597.5" y2="654.3" stroke="#b4621a" stroke-width="2.6" stroke-linecap="butt"/>
<line x1="560.5" y1="668.1" x2="560.5" y2="689.3" stroke="#1c0a00" stroke-width="3.8000000000000003" stroke-linecap="butt"/>
<line x1="560.5" y1="668.1" x2="560.5" y2="689.3" stroke="#b4621a" stroke-width="2.2" stroke-linecap="butt"/>
<line x1="598.0" y1="656.1" x2="635.0" y2="660.7" stroke="#1c0a00" stroke-width="4.2" stroke-linecap="butt"/>
<line x1="598.0" y1="656.1" x2="635.0" y2="660.7" stroke="#b4621a" stroke-width="2.6" stroke-linecap="butt"/>
<line x1="635.0" y1="660.7" x2="672.0" y2="626.6" stroke="#1c0a00" stroke-width="4.2" stroke-linecap="butt"/>
<line x1="635.0" y1="660.7" x2="672.0" y2="626.6" stroke="#b4621a" stroke-width="2.6" stroke-linecap="butt"/>
<line x1="635.0" y1="640.4" x2="635.0" y2="660.7" stroke="#1c0a00" stroke-width="3.8000000000000003" stroke-linecap="butt"/>
<line x1="635.0" y1="640.4" x2="635.0" y2="660.7" stroke="#b4621a" stroke-width="2.2" stroke-linecap="butt"/>
<line x1="672.5" y1="628.4" x2="709.5" y2="632.1" stroke="#1c0a00" stroke-width="4.2" stroke-linecap="butt"/>
<line x1="672.5" y1="628.4" x2="709.5" y2="632.1" stroke="#b4621a" stroke-width="2.6" stroke-linecap="butt"/>
<line x1="709.5" y1="632.1" x2="746.5" y2="598.8" stroke="#1c0a00" stroke-width="4.2" stroke-linecap="butt"/>
<line x1="709.5" y1="632.1" x2="746.5" y2="598.8" stroke="#b4621a" stroke-width="2.6" stroke-linecap="butt"/>
<line x1="709.5" y1="612.6" x2="709.5" y2="632.1" stroke="#1c0a00" stroke-width="3.8000000000000003" stroke-linecap="butt"/>
<line x1="709.5" y1="612.6" x2="709.5" y2="632.1" stroke="#b4621a" stroke-width="2.2" stroke-linecap="butt"/>
<line x1="747.0" y1="600.7" x2="784.0" y2="603.4" stroke="#1c0a00" stroke-width="4.2" stroke-linecap="butt"/>
<line x1="747.0" y1="600.7" x2="784.0" y2="603.4" stroke="#b4621a" stroke-width="2.6" stroke-linecap="butt"/>
<line x1="784.0" y1="603.4" x2="821.0" y2="571.1" stroke="#1c0a00" stroke-width="4.2" stroke-linecap="butt"/>
<line x1="784.0" y1="603.4" x2="821.0" y2="571.1" stroke="#b4621a" stroke-width="2.6" stroke-linecap="butt"/>
<line x1="784.0" y1="584.9" x2="784.0" y2="603.4" stroke="#1c0a00" stroke-width="3.8000000000000003" stroke-linecap="butt"/>
<line x1="784.0" y1="584.9" x2="784.0" y2="603.4" stroke="#b4621a" stroke-width="2.2" stroke-linecap="butt"/>
<line x1="821.5" y1="572.9" x2="858.5" y2="574.8" stroke="#1c0a00" stroke-width="4.2" stroke-linecap="butt"/>
<line x1="821.5" y1="572.9" x2="858.5" y2="574.8" stroke="#b4621a" stroke-width="2.6" stroke-linecap="butt"/>
<line x1="858.5" y1="574.8" x2="895.5" y2="543.4" stroke="#1c0a00" stroke-width="4.2" stroke-linecap="butt"/>
<line x1="858.5" y1="574.8" x2="895.5" y2="543.4" stroke="#b4621a" stroke-width="2.6" stroke-linecap="butt"/>
<line x1="858.5" y1="557.1" x2="858.5" y2="574.8" stroke="#1c0a00" stroke-width="3.8000000000000003" stroke-linecap="butt"/>
<line x1="858.5" y1="557.1" x2="858.5" y2="574.8" stroke="#b4621a" stroke-width="2.2" stroke-linecap="butt"/>
<line x1="896.0" y1="545.2" x2="933.0" y2="546.2" stroke="#1c0a00" stroke-width="4.2" stroke-linecap="butt"/>
<line x1="896.0" y1="545.2" x2="933.0" y2="546.2" stroke="#b4621a" stroke-width="2.6" stroke-linecap="butt"/>
<line x1="933.0" y1="546.2" x2="970.0" y2="515.6" stroke="#1c0a00" stroke-width="4.2" stroke-linecap="butt"/>
<line x1="933.0" y1="546.2" x2="970.0" y2="515.6" stroke="#b4621a" stroke-width="2.6" stroke-linecap="butt"/>
<line x1="933.0" y1="529.4" x2="933.0" y2="546.2" stroke="#1c0a00" stroke-width="3.8000000000000003" stroke-linecap="butt"/>
<line x1="933.0" y1="529.4" x2="933.0" y2="546.2" stroke="#b4621a" stroke-width="2.2" stroke-linecap="butt"/>
<line x1="970.5" y1="517.4" x2="1007.5" y2="517.5" stroke="#1c0a00" stroke-width="4.2" stroke-linecap="butt"/>
<line x1="970.5" y1="517.4" x2="1007.5" y2="517.5" stroke="#b4621a" stroke-width="2.6" stroke-linecap="butt"/>
<line x1="1007.5" y1="517.5" x2="1044.5" y2="487.9" stroke="#1c0a00" stroke-width="4.2" stroke-linecap="butt"/>
<line x1="1007.5" y1="517.5" x2="1044.5" y2="487.9" stroke="#b4621a" stroke-width="2.6" stroke-linecap="butt"/>
<line x1="1007.5" y1="501.6" x2="1007.5" y2="517.5" stroke="#1c0a00" stroke-width="3.8000000000000003" stroke-linecap="butt"/>
<line x1="1007.5" y1="501.6" x2="1007.5" y2="517.5" stroke="#b4621a" stroke-width="2.2" stroke-linecap="butt"/>
<line x1="1045.0" y1="489.7" x2="1082.0" y2="488.9" stroke="#1c0a00" stroke-width="4.2" stroke-linecap="butt"/>
<line x1="1045.0" y1="489.7" x2="1082.0" y2="488.9" stroke="#b4621a" stroke-width="2.6" stroke-linecap="butt"/>
<line x1="1082.0" y1="488.9" x2="1119.0" y2="460.1" stroke="#1c0a00" stroke-width="4.2" stroke-linecap="butt"/>
<line x1="1082.0" y1="488.9" x2="1119.0" y2="460.1" stroke="#b4621a" stroke-width="2.6" stroke-linecap="butt"/>
<line x1="1082.0" y1="473.9" x2="1082.0" y2="488.9" stroke="#1c0a00" stroke-width="3.8000000000000003" stroke-linecap="butt"/>
<line x1="1082.0" y1="473.9" x2="1082.0" y2="488.9" stroke="#b4621a" stroke-width="2.2" stroke-linecap="butt"/>
<line x1="1119.5" y1="461.9" x2="1156.5" y2="460.2" stroke="#1c0a00" stroke-width="4.2" stroke-linecap="butt"/>
<line x1="1119.5" y1="461.9" x2="1156.5" y2="460.2" stroke="#b4621a" stroke-width="2.6" stroke-linecap="butt"/>
<line x1="1156.5" y1="460.2" x2="1193.5" y2="432.4" stroke="#1c0a00" stroke-width="4.2" stroke-linecap="butt"/>
<line x1="1156.5" y1="460.2" x2="1193.5" y2="432.4" stroke="#b4621a" stroke-width="2.6" stroke-linecap="butt"/>
<line x1="1156.5" y1="446.2" x2="1156.5" y2="460.2" stroke="#1c0a00" stroke-width="3.8000000000000003" stroke-linecap="butt"/>
<line x1="1156.5" y1="446.2" x2="1156.5" y2="460.2" stroke="#b4621a" stroke-width="2.2" stroke-linecap="butt"/>
<line x1="1194.0" y1="434.2" x2="1231.0" y2="431.6" stroke="#1c0a00" stroke-width="4.2" stroke-linecap="butt"/>
<line x1="1194.0" y1="434.2" x2="1231.0" y2="431.6" stroke="#b4621a" stroke-width="2.6" stroke-linecap="butt"/>
<line x1="1231.0" y1="431.6" x2="1268.0" y2="404.6" stroke="#1c0a00" stroke-width="4.2" stroke-linecap="butt"/>
<line x1="1231.0" y1="431.6" x2="1268.0" y2="404.6" stroke="#b4621a" stroke-width="2.6" stroke-linecap="butt"/>
<line x1="1231.0" y1="418.4" x2="1231.0" y2="431.6" stroke="#1c0a00" stroke-width="3.8000000000000003" stroke-linecap="butt"/>
<line x1="1231.0" y1="418.4" x2="1231.0" y2="431.6" stroke="#b4621a" stroke-width="2.2" stroke-linecap="butt"/>
<line x1="1268.5" y1="406.4" x2="1305.5" y2="403.0" stroke="#1c0a00" stroke-width="4.2" stroke-linecap="butt"/>
<line x1="1268.5" y1="406.4" x2="1305.5" y2="403.0" stroke="#b4621a" stroke-width="2.6" stroke-linecap="butt"/>
<line x1="1305.5" y1="403.0" x2="1342.5" y2="376.9" stroke="#1c0a00" stroke-width="4.2" stroke-linecap="butt"/>
<line x1="1305.5" y1="403.0" x2="1342.5" y2="376.9" stroke="#b4621a" stroke-width="2.6" stroke-linecap="butt"/>
<line x1="1305.5" y1="390.7" x2="1305.5" y2="403.0" stroke="#1c0a00" stroke-width="3.8000000000000003" stroke-linecap="butt"/>
<line x1="1305.5" y1="390.7" x2="1305.5" y2="403.0" stroke="#b4621a" stroke-width="2.2" stroke-linecap="butt"/>
</g>
<g id="g_tail">
<path d="M143,789 L145,738 Q146,729 154,727 L182,716" fill="none" stroke="#1c0a00" stroke-width="5.2" stroke-linejoin="round" stroke-linecap="round" />
<path d="M143,789 L145,738 Q146,729 154,727 L182,716" fill="none" stroke="#b4621a" stroke-width="3" stroke-linejoin="round" stroke-linecap="round" />
<polygon points="142.0,788.0 165.0,775.0 167.0,800.0 144.0,792.0" fill="#c46c1a" stroke="#1c0a00" stroke-width="1.5" stroke-linejoin="round" />
<polygon points="142.0,791.0 222.0,832.0 270.0,860.0 270.0,864.0 222.0,836.0 141.0,795.0" fill="#834200" stroke="#1c0a00" stroke-width="1.5" stroke-linejoin="round" />
<polygon points="171.0,760.0 182.0,748.0 232.0,752.0 262.0,764.0 252.0,790.0 226.0,798.0 216.0,799.0 173.0,777.0" fill="#3a3a3a" stroke="#0a0a0a" stroke-width="1.5" stroke-linejoin="round" />
<ellipse cx="238" cy="786" rx="11" ry="14.5" fill="#8a8a8a" stroke="#111" stroke-width="1.2" transform="rotate(-20 238 786)"/>
<ellipse cx="238" cy="787" rx="5" ry="7" fill="#5a5a5a" stroke="#111" stroke-width="0.8" transform="rotate(-20 238 787)"/>
<polygon points="166.0,776.0 222.0,803.0 222.0,832.0 167.0,801.0" fill="#a2540d" stroke="#1c0a00" stroke-width="1.5" stroke-linejoin="round" />
<line x1="172.0" y1="790.0" x2="218.0" y2="813.0" stroke="#1c0a00" stroke-width="1" stroke-linecap="round"/>
<polygon points="270.0,794.0 312.0,777.0 314.0,784.0 271.0,801.0" fill="#2a2a2a" stroke="#000" stroke-width="0.8" stroke-linejoin="round" />
<line x1="274.0" y1="795.0" x2="310.0" y2="781.0" stroke="#bbb" stroke-width="1" stroke-linecap="round"/>
<polygon points="224.0,808.0 250.0,800.0 258.0,784.0 268.0,782.0 268.0,806.0 234.0,828.0 226.0,832.0" fill="#a2540d" stroke="#1c0a00" stroke-width="1.5" stroke-linejoin="round" />
</g>
<g id="g_hood">
<polygon points="1310.0,346.0 1418.0,306.0 1430.0,327.0 1437.0,372.0 1445.0,415.0 1438.0,418.0 1312.0,398.0" fill="#484848" stroke="#0a0a0a" stroke-width="1.5" stroke-linejoin="round" />
<polygon points="1252.6,309.5 1358.5,268.7 1398.4,267.1 1406.0,289.0 1306.0,331.0 1295.0,328.0" fill="#5a5a5a" stroke="#0a0a0a" stroke-width="1.5" stroke-linejoin="round" />
<polygon points="1306.0,331.0 1406.0,289.0 1414.0,298.0 1309.0,339.0" fill="#545454" stroke="#0a0a0a" stroke-width="0.9" stroke-linejoin="round" />
<polygon points="1309.0,339.0 1414.0,298.0 1418.0,307.0 1311.0,348.0" fill="#4e4e4e" stroke="#0a0a0a" stroke-width="0.9" stroke-linejoin="round" />
<polygon points="1398.4,267.1 1423.7,281.0 1414.0,298.0 1406.0,289.0" fill="#505050" stroke="#0a0a0a" stroke-width="0.9" stroke-linejoin="round" />
<polygon points="1423.7,281.0 1428.5,289.1 1430.2,327.0 1418.0,307.0 1414.0,298.0" fill="#464646" stroke="#0a0a0a" stroke-width="0.9" stroke-linejoin="round" />
<path d="M1249.3,316 Q1249.5,310 1252.6,309.5 L1295,328 Q1309,333 1311,348 L1312,356 L1249.5,322 Z" fill="#565656" stroke="#0a0a0a" stroke-width="1.2" stroke-linejoin="round" stroke-linecap="round" />
<path d="M1316,358 L1389,329 L1389,343" fill="none" stroke="#0a0a0a" stroke-width="1" stroke-linejoin="round" stroke-linecap="round" />
<polygon points="1430.0,327.0 1437.0,372.0 1445.0,415.0 1453.0,419.0 1440.0,380.0" fill="#404040" stroke="#0a0a0a" stroke-width="1.5" stroke-linejoin="round" />
<polygon points="1358.5,351.0 1389.4,344.5 1391.0,373.8 1376.4,396.6 1334.0,404.8 1343.8,373.8" fill="#b4601a" stroke="#1c0a00" stroke-width="1.5" stroke-linejoin="round" />
<line x1="1352.0" y1="362.0" x2="1388.0" y2="352.0" stroke="#1c0a00" stroke-width="1" stroke-linecap="round"/>
<ellipse cx="1368" cy="365" rx="3" ry="3" fill="#444" stroke="#111" stroke-width="0.8" transform="rotate(0 1368 365)"/>
<ellipse cx="1343" cy="392" rx="3" ry="3" fill="#444" stroke="#111" stroke-width="0.8" transform="rotate(0 1343 392)"/>
<polygon points="1399.0,472.4 1441.0,464.0 1469.6,477.0 1428.0,484.5" fill="#585858" stroke="#0a0a0a" stroke-width="1" stroke-linejoin="round" />
<polygon points="1431.0,388.0 1441.0,388.0 1452.0,418.0 1437.0,421.0" fill="#404040" stroke="#0a0a0a" stroke-width="1" stroke-linejoin="round" />
<polygon points="1391.0,436.0 1425.0,422.0 1447.5,427.5 1410.0,437.5" fill="#383838" stroke="#0a0a0a" stroke-width="1.5" stroke-linejoin="round" />
<polygon points="1425.0,420.0 1453.8,417.5 1454.0,421.0 1426.0,425.0" fill="#4a4a4a" stroke="#0a0a0a" stroke-width="1.5" stroke-linejoin="round" />
<polygon points="1391.0,436.0 1410.0,437.5 1425.0,483.8 1407.5,472.5" fill="#3e3e3e" stroke="#0a0a0a" stroke-width="1.5" stroke-linejoin="round" />
<polygon points="1410.0,437.5 1447.5,427.5 1462.5,475.0 1425.0,483.8" fill="#4e4e4e" stroke="#0a0a0a" stroke-width="1.5" stroke-linejoin="round" />
<polygon points="1397.5,472.5 1425.0,485.0 1468.8,476.0 1470.0,479.0 1425.0,489.0 1397.5,475.5" fill="#3a3a3a" stroke="#0a0a0a" stroke-width="1.5" stroke-linejoin="round" />
<polygon points="1407.5,479.0 1425.0,487.5 1423.8,553.8 1406.0,542.5" fill="#3e3e3e" stroke="#0a0a0a" stroke-width="1.5" stroke-linejoin="round" />
<polygon points="1425.0,487.5 1457.5,480.5 1456.0,545.0 1423.8,553.8" fill="#4c4c4c" stroke="#0a0a0a" stroke-width="1.5" stroke-linejoin="round" />
</g>
<g id="g_walk">
<polygon points="226.0,823.0 1382.0,386.0 1382.5,396.0 226.0,834.0" fill="#a2540d" stroke="#1c0a00" stroke-width="1.5" stroke-linejoin="round" />
<line x1="226.0" y1="828.0" x2="1382.0" y2="391.0" stroke="#1c0a00" stroke-width="0.8" stroke-linecap="round"/>
<polygon points="226.0,834.0 1382.5,396.0 1435.0,415.0 270.0,860.0" fill="#0606b6" stroke="#000" stroke-width="1.5" stroke-linejoin="round" />
<polygon points="300.0,808.0 370.0,781.6 355.0,824.5" fill="#03039a" stroke="none" stroke-width="1.5" stroke-linejoin="round" />
<polygon points="449.0,751.7 519.0,725.3 504.0,767.5" fill="#03039a" stroke="none" stroke-width="1.5" stroke-linejoin="round" />
<polygon points="598.0,695.4 668.0,668.9 653.0,710.5" fill="#03039a" stroke="none" stroke-width="1.5" stroke-linejoin="round" />
<polygon points="747.0,639.1 817.0,612.6 802.0,653.5" fill="#03039a" stroke="none" stroke-width="1.5" stroke-linejoin="round" />
<polygon points="896.0,582.8 966.0,556.3 951.0,596.4" fill="#03039a" stroke="none" stroke-width="1.5" stroke-linejoin="round" />
<polygon points="1045.0,526.4 1115.0,500.0 1100.0,539.4" fill="#03039a" stroke="none" stroke-width="1.5" stroke-linejoin="round" />
<polygon points="1194.0,470.1 1264.0,443.6 1249.0,482.4" fill="#03039a" stroke="none" stroke-width="1.5" stroke-linejoin="round" />
<polygon points="270.0,860.0 1435.0,415.0 1436.0,425.0 272.0,871.0" fill="#a2540d" stroke="#1c0a00" stroke-width="1.5" stroke-linejoin="round" />
<line x1="271.0" y1="865.0" x2="1435.5" y2="420.0" stroke="#1c0a00" stroke-width="0.8" stroke-linecap="round"/>
</g>
<g id="g_mid">
<polygon points="276.0,858.0 395.0,912.0 393.0,915.6 274.4,861.2" fill="#c46c1a" stroke="#c46c1a" stroke-width="0.5" stroke-linejoin="round" />
<polygon points="274.4,861.2 393.0,915.6 390.0,921.0 272.0,866.0" fill="#a2540d" stroke="#a2540d" stroke-width="0.5" stroke-linejoin="round" />
<line x1="274.4" y1="861.2" x2="393.0" y2="915.6" stroke="#1c0a00" stroke-width="1.2" stroke-linecap="round"/>
<polygon points="276.0,858.0 395.0,912.0 390.0,921.0 272.0,866.0" fill="none" stroke="#1c0a00" stroke-width="1.6" stroke-linejoin="round" />
<polygon points="298.0,850.7 417.0,905.4 415.0,909.0 296.4,853.9" fill="#c46c1a" stroke="#c46c1a" stroke-width="0.5" stroke-linejoin="round" />
<polygon points="296.4,853.9 415.0,909.0 412.0,914.4 294.0,858.7" fill="#a2540d" stroke="#a2540d" stroke-width="0.5" stroke-linejoin="round" />
<line x1="296.4" y1="853.9" x2="415.0" y2="909.0" stroke="#1c0a00" stroke-width="1.2" stroke-linecap="round"/>
<polygon points="298.0,850.7 417.0,905.4 412.0,914.4 294.0,858.7" fill="none" stroke="#1c0a00" stroke-width="1.6" stroke-linejoin="round" />
<polygon points="320.0,843.5 439.0,898.8 437.0,902.4 318.4,846.7" fill="#c46c1a" stroke="#c46c1a" stroke-width="0.5" stroke-linejoin="round" />
<polygon points="318.4,846.7 437.0,902.4 434.0,907.8 316.0,851.5" fill="#a2540d" stroke="#a2540d" stroke-width="0.5" stroke-linejoin="round" />
<line x1="318.4" y1="846.7" x2="437.0" y2="902.4" stroke="#1c0a00" stroke-width="1.2" stroke-linecap="round"/>
<polygon points="320.0,843.5 439.0,898.8 434.0,907.8 316.0,851.5" fill="none" stroke="#1c0a00" stroke-width="1.6" stroke-linejoin="round" />
<polygon points="293.0,864.0 1126.0,551.0 1127.5,555.8 293.9,868.8" fill="#c46c1a" stroke="#c46c1a" stroke-width="0.5" stroke-linejoin="round" />
<polygon points="293.9,868.8 1127.5,555.8 1130.2,564.6 295.6,877.6" fill="#954d07" stroke="#954d07" stroke-width="0.5" stroke-linejoin="round" />
<polygon points="295.6,877.6 1130.2,564.6 1131.0,567.0 296.0,880.0" fill="#a2540d" stroke="#a2540d" stroke-width="0.5" stroke-linejoin="round" />
<line x1="293.9" y1="868.8" x2="1127.5" y2="555.8" stroke="#1c0a00" stroke-width="1.2" stroke-linecap="round"/>
<line x1="295.6" y1="877.6" x2="1130.2" y2="564.6" stroke="#1c0a00" stroke-width="1.2" stroke-linecap="round"/>
<polygon points="293.0,864.0 1126.0,551.0 1131.0,567.0 296.0,880.0" fill="none" stroke="#1c0a00" stroke-width="1.6" stroke-linejoin="round" />
</g>
<g id="g_rail">
<line x1="268.0" y1="770.9" x2="270.0" y2="862.0" stroke="#1c0a00" stroke-width="3.8000000000000003" stroke-linecap="butt"/>
<line x1="268.0" y1="770.9" x2="270.0" y2="862.0" stroke="#b4621a" stroke-width="2.2" stroke-linecap="butt"/>
<line x1="372.0" y1="724.0" x2="374.0" y2="822.2" stroke="#1c0a00" stroke-width="3.8000000000000003" stroke-linecap="butt"/>
<line x1="372.0" y1="724.0" x2="374.0" y2="822.2" stroke="#b4621a" stroke-width="2.2" stroke-linecap="butt"/>
<line x1="521.0" y1="668.2" x2="523.0" y2="765.2" stroke="#1c0a00" stroke-width="3.8000000000000003" stroke-linecap="butt"/>
<line x1="521.0" y1="668.2" x2="523.0" y2="765.2" stroke="#b4621a" stroke-width="2.2" stroke-linecap="butt"/>
<line x1="670.0" y1="612.4" x2="672.0" y2="708.2" stroke="#1c0a00" stroke-width="3.8000000000000003" stroke-linecap="butt"/>
<line x1="670.0" y1="612.4" x2="672.0" y2="708.2" stroke="#b4621a" stroke-width="2.2" stroke-linecap="butt"/>
<line x1="819.0" y1="556.6" x2="821.0" y2="651.2" stroke="#1c0a00" stroke-width="3.8000000000000003" stroke-linecap="butt"/>
<line x1="819.0" y1="556.6" x2="821.0" y2="651.2" stroke="#b4621a" stroke-width="2.2" stroke-linecap="butt"/>
<line x1="968.0" y1="500.8" x2="970.0" y2="594.2" stroke="#1c0a00" stroke-width="3.8000000000000003" stroke-linecap="butt"/>
<line x1="968.0" y1="500.8" x2="970.0" y2="594.2" stroke="#b4621a" stroke-width="2.2" stroke-linecap="butt"/>
<line x1="1117.0" y1="445.0" x2="1119.0" y2="537.2" stroke="#1c0a00" stroke-width="3.8000000000000003" stroke-linecap="butt"/>
<line x1="1117.0" y1="445.0" x2="1119.0" y2="537.2" stroke="#b4621a" stroke-width="2.2" stroke-linecap="butt"/>
<line x1="1266.0" y1="389.2" x2="1268.0" y2="480.2" stroke="#1c0a00" stroke-width="3.8000000000000003" stroke-linecap="butt"/>
<line x1="1266.0" y1="389.2" x2="1268.0" y2="480.2" stroke="#b4621a" stroke-width="2.2" stroke-linecap="butt"/>
<line x1="1432.0" y1="327.0" x2="1434.0" y2="416.6" stroke="#1c0a00" stroke-width="3.8000000000000003" stroke-linecap="butt"/>
<line x1="1432.0" y1="327.0" x2="1434.0" y2="416.6" stroke="#b4621a" stroke-width="2.2" stroke-linecap="butt"/>
<line x1="268.0" y1="768.9" x2="373.0" y2="818.6" stroke="#1c0a00" stroke-width="3.8000000000000003" stroke-linecap="butt"/>
<line x1="268.0" y1="768.9" x2="373.0" y2="818.6" stroke="#b4621a" stroke-width="2.2" stroke-linecap="butt"/>
<line x1="270.0" y1="858.0" x2="372.0" y2="728.0" stroke="#1c0a00" stroke-width="3.8000000000000003" stroke-linecap="butt"/>
<line x1="270.0" y1="858.0" x2="372.0" y2="728.0" stroke="#b4621a" stroke-width="2.2" stroke-linecap="butt"/>
<line x1="372.0" y1="730.0" x2="522.0" y2="761.6" stroke="#1c0a00" stroke-width="3.8000000000000003" stroke-linecap="butt"/>
<line x1="372.0" y1="730.0" x2="522.0" y2="761.6" stroke="#b4621a" stroke-width="2.2" stroke-linecap="butt"/>
<line x1="374.0" y1="818.2" x2="521.0" y2="672.2" stroke="#1c0a00" stroke-width="3.8000000000000003" stroke-linecap="butt"/>
<line x1="374.0" y1="818.2" x2="521.0" y2="672.2" stroke="#b4621a" stroke-width="2.2" stroke-linecap="butt"/>
<line x1="521.0" y1="674.2" x2="671.0" y2="704.6" stroke="#1c0a00" stroke-width="3.8000000000000003" stroke-linecap="butt"/>
<line x1="521.0" y1="674.2" x2="671.0" y2="704.6" stroke="#b4621a" stroke-width="2.2" stroke-linecap="butt"/>
<line x1="523.0" y1="761.2" x2="670.0" y2="616.4" stroke="#1c0a00" stroke-width="3.8000000000000003" stroke-linecap="butt"/>
<line x1="523.0" y1="761.2" x2="670.0" y2="616.4" stroke="#b4621a" stroke-width="2.2" stroke-linecap="butt"/>
<line x1="670.0" y1="618.4" x2="820.0" y2="647.6" stroke="#1c0a00" stroke-width="3.8000000000000003" stroke-linecap="butt"/>
<line x1="670.0" y1="618.4" x2="820.0" y2="647.6" stroke="#b4621a" stroke-width="2.2" stroke-linecap="butt"/>
<line x1="672.0" y1="704.2" x2="819.0" y2="560.6" stroke="#1c0a00" stroke-width="3.8000000000000003" stroke-linecap="butt"/>
<line x1="672.0" y1="704.2" x2="819.0" y2="560.6" stroke="#b4621a" stroke-width="2.2" stroke-linecap="butt"/>
<line x1="819.0" y1="562.6" x2="969.0" y2="590.6" stroke="#1c0a00" stroke-width="3.8000000000000003" stroke-linecap="butt"/>
<line x1="819.0" y1="562.6" x2="969.0" y2="590.6" stroke="#b4621a" stroke-width="2.2" stroke-linecap="butt"/>
<line x1="821.0" y1="647.2" x2="968.0" y2="504.8" stroke="#1c0a00" stroke-width="3.8000000000000003" stroke-linecap="butt"/>
<line x1="821.0" y1="647.2" x2="968.0" y2="504.8" stroke="#b4621a" stroke-width="2.2" stroke-linecap="butt"/>
<line x1="968.0" y1="506.8" x2="1118.0" y2="533.6" stroke="#1c0a00" stroke-width="3.8000000000000003" stroke-linecap="butt"/>
<line x1="968.0" y1="506.8" x2="1118.0" y2="533.6" stroke="#b4621a" stroke-width="2.2" stroke-linecap="butt"/>
<line x1="970.0" y1="590.2" x2="1117.0" y2="449.0" stroke="#1c0a00" stroke-width="3.8000000000000003" stroke-linecap="butt"/>
<line x1="970.0" y1="590.2" x2="1117.0" y2="449.0" stroke="#b4621a" stroke-width="2.2" stroke-linecap="butt"/>
<line x1="1117.0" y1="451.0" x2="1267.0" y2="476.5" stroke="#1c0a00" stroke-width="3.8000000000000003" stroke-linecap="butt"/>
<line x1="1117.0" y1="451.0" x2="1267.0" y2="476.5" stroke="#b4621a" stroke-width="2.2" stroke-linecap="butt"/>
<line x1="1119.0" y1="533.2" x2="1266.0" y2="393.2" stroke="#1c0a00" stroke-width="3.8000000000000003" stroke-linecap="butt"/>
<line x1="1119.0" y1="533.2" x2="1266.0" y2="393.2" stroke="#b4621a" stroke-width="2.2" stroke-linecap="butt"/>
<line x1="1266.0" y1="395.2" x2="1433.0" y2="413.0" stroke="#1c0a00" stroke-width="3.8000000000000003" stroke-linecap="butt"/>
<line x1="1266.0" y1="395.2" x2="1433.0" y2="413.0" stroke="#b4621a" stroke-width="2.2" stroke-linecap="butt"/>
<line x1="1268.0" y1="476.2" x2="1432.0" y2="331.0" stroke="#1c0a00" stroke-width="3.8000000000000003" stroke-linecap="butt"/>
<line x1="1268.0" y1="476.2" x2="1432.0" y2="331.0" stroke="#b4621a" stroke-width="2.2" stroke-linecap="butt"/>
<path d="M268,772 Q268,762 276,760 L1432,327" fill="none" stroke="#1c0a00" stroke-width="3.8" stroke-linejoin="round" stroke-linecap="round" />
<path d="M268,772 Q268,762 276,760 L1432,327" fill="none" stroke="#b4621a" stroke-width="2.0" stroke-linejoin="round" stroke-linecap="round" />
</g>
<g id="g_hopper">
<line x1="122.0" y1="592.0" x2="166.0" y2="672.0" stroke="#161464" stroke-width="4.5" stroke-linecap="round"/>
<line x1="166.0" y1="665.0" x2="160.0" y2="765.0" stroke="#161464" stroke-width="4" stroke-linecap="round"/>
<line x1="164.0" y1="694.0" x2="182.0" y2="688.0" stroke="#161464" stroke-width="4" stroke-linecap="round"/>
<polygon points="181.0,684.0 224.0,709.0 226.0,757.0 216.0,766.0 181.0,742.0" fill="#b09984" stroke="#1a1a1a" stroke-width="1.5" stroke-linejoin="round" />
<polygon points="226.0,709.0 350.0,668.0 360.0,675.0 360.0,721.0 227.5,757.0" fill="#a08c78" stroke="#1a1a1a" stroke-width="1.5" stroke-linejoin="round" />
<polygon points="349.5,668.0 358.5,640.0 365.0,636.0 399.0,649.0 400.0,662.0 360.0,675.0" fill="#c2ad98" stroke="#1a1a1a" stroke-width="1.5" stroke-linejoin="round" />
<line x1="363.0" y1="625.0" x2="400.0" y2="646.5" stroke="#2a2a2a" stroke-width="3" stroke-linecap="round"/>
<polygon points="360.0,675.0 400.0,662.0 400.0,700.0 360.0,720.0" fill="#a3917e" stroke="#1a1a1a" stroke-width="1.5" stroke-linejoin="round" />
<polygon points="119.0,589.0 186.0,626.0 226.0,710.0 181.0,684.0" fill="#917d6c" stroke="#1a1a1a" stroke-width="1.5" stroke-linejoin="round" />
<polygon points="186.0,626.0 360.5,579.0 358.5,640.0 349.5,668.0 228.0,708.0" fill="#887767" stroke="#1a1a1a" stroke-width="1.5" stroke-linejoin="round" />
<polygon points="216.0,682.3 356.0,644.0 349.5,668.0 228.0,708.0" fill="#a08c7a" stroke="#1a1a1a" stroke-width="0.9" stroke-linejoin="round" />
<line x1="213.0" y1="677.0" x2="357.5" y2="638.0" stroke="#1a1a1a" stroke-width="0.9" stroke-linecap="round"/>
<polygon points="124.5,588.2 304.0,539.8 364.0,575.6 186.2,622.3" fill="#837262" stroke="#1a1a1a" stroke-width="1.5" stroke-linejoin="round" />
<polygon points="304.0,539.8 364.0,575.6 303.6,592.0" fill="#a59482" stroke="#1a1a1a" stroke-width="0.8" stroke-linejoin="round" />
<path d="M118,587 L304.4,537 L369.5,575 L186.2,625.2 Z M124.5,588.2 L304,539.8 L364,575.6 L186.2,622.3 Z" fill="#9a9a9a" stroke="#1a1a1a" stroke-width="1" stroke-linejoin="round" stroke-linecap="round" fill-rule="evenodd"/>
<polygon points="118.0,587.0 186.2,625.2 369.5,575.0 369.5,578.0 186.2,628.5 118.0,590.0" fill="#777" stroke="#1a1a1a" stroke-width="0.9" stroke-linejoin="round" />
<line x1="186.0" y1="629.0" x2="228.0" y2="708.0" stroke="#161464" stroke-width="5" stroke-linecap="round"/>
<line x1="229.0" y1="619.0" x2="224.0" y2="772.0" stroke="#161464" stroke-width="5" stroke-linecap="round"/>
<line x1="295.5" y1="601.0" x2="292.5" y2="765.0" stroke="#161464" stroke-width="5" stroke-linecap="round"/>
<line x1="360.5" y1="580.0" x2="358.5" y2="722.0" stroke="#1a1a1a" stroke-width="4.2" stroke-linecap="round"/>
<line x1="360.5" y1="580.0" x2="358.5" y2="722.0" stroke="#5a5a5a" stroke-width="2.2" stroke-linecap="round"/>
<line x1="227.0" y1="713.0" x2="358.0" y2="675.5" stroke="#161464" stroke-width="5" stroke-linecap="round"/>
<line x1="224.0" y1="772.0" x2="292.0" y2="754.0" stroke="#161464" stroke-width="3.5" stroke-linecap="round"/>
</g>
<g id="g_near">
<polygon points="1125.6,567.3 1170.3,589.7 1170.3,596.3 1121.0,570.3" fill="#c46c1a" stroke="#c46c1a" stroke-width="0.5" stroke-linejoin="round" />
<polygon points="1121.0,570.3 1170.3,596.3 1170.3,606.2 1114.0,574.8" fill="#a2540d" stroke="#a2540d" stroke-width="0.5" stroke-linejoin="round" />
<line x1="1121.0" y1="570.3" x2="1170.3" y2="596.3" stroke="#1c0a00" stroke-width="1.2" stroke-linecap="round"/>
<polygon points="1125.6,567.3 1170.3,589.7 1170.3,606.2 1114.0,574.8" fill="none" stroke="#1c0a00" stroke-width="1.6" stroke-linejoin="round" />
<polygon points="707.6,724.0 990.0,766.0 976.0,770.2 719.9,731.4" fill="#c46c1a" stroke="#c46c1a" stroke-width="0.5" stroke-linejoin="round" />
<polygon points="719.9,731.4 976.0,770.2 950.0,778.0 742.6,745.0" fill="#a2540d" stroke="#a2540d" stroke-width="0.5" stroke-linejoin="round" />
<line x1="719.9" y1="731.4" x2="976.0" y2="770.2" stroke="#1c0a00" stroke-width="1.2" stroke-linecap="round"/>
<polygon points="707.6,724.0 990.0,766.0 950.0,778.0 742.6,745.0" fill="none" stroke="#1c0a00" stroke-width="1.6" stroke-linejoin="round" />
<polygon points="729.5,713.0 729.5,754.0 734.2,754.0 734.2,713.0" fill="#c46c1a" stroke="#c46c1a" stroke-width="0.5" stroke-linejoin="round" />
<polygon points="734.2,713.0 734.2,754.0 739.0,754.0 739.0,713.0" fill="#a2540d" stroke="#a2540d" stroke-width="0.5" stroke-linejoin="round" />
<line x1="734.2" y1="713.0" x2="734.2" y2="754.0" stroke="#1c0a00" stroke-width="1.2" stroke-linecap="round"/>
<polygon points="729.5,713.0 729.5,754.0 739.0,754.0 739.0,713.0" fill="none" stroke="#1c0a00" stroke-width="1.6" stroke-linejoin="round" />
<polygon points="742.0,712.0 806.0,790.0 808.5,788.0 744.5,710.5" fill="#c46c1a" stroke="#c46c1a" stroke-width="0.5" stroke-linejoin="round" />
<polygon points="744.5,710.5 808.5,788.0 811.0,786.0 747.0,709.0" fill="#a2540d" stroke="#a2540d" stroke-width="0.5" stroke-linejoin="round" />
<line x1="744.5" y1="710.5" x2="808.5" y2="788.0" stroke="#1c0a00" stroke-width="1.2" stroke-linecap="round"/>
<polygon points="742.0,712.0 806.0,790.0 811.0,786.0 747.0,709.0" fill="none" stroke="#1c0a00" stroke-width="1.6" stroke-linejoin="round" />
<polygon points="760.0,708.0 812.0,731.0 812.0,735.4 758.0,711.6" fill="#c46c1a" stroke="#c46c1a" stroke-width="0.5" stroke-linejoin="round" />
<polygon points="758.0,711.6 812.0,735.4 812.0,742.0 755.0,717.0" fill="#a2540d" stroke="#a2540d" stroke-width="0.5" stroke-linejoin="round" />
<line x1="758.0" y1="711.6" x2="812.0" y2="735.4" stroke="#1c0a00" stroke-width="1.2" stroke-linecap="round"/>
<polygon points="760.0,708.0 812.0,731.0 812.0,742.0 755.0,717.0" fill="none" stroke="#1c0a00" stroke-width="1.6" stroke-linejoin="round" />
<polygon points="412.0,848.0 612.0,869.0 594.4,874.2 412.0,853.2" fill="#c46c1a" stroke="#c46c1a" stroke-width="0.5" stroke-linejoin="round" />
<polygon points="412.0,853.2 594.4,874.2 568.0,882.0 412.0,861.0" fill="#a2540d" stroke="#a2540d" stroke-width="0.5" stroke-linejoin="round" />
<line x1="412.0" y1="853.2" x2="594.4" y2="874.2" stroke="#1c0a00" stroke-width="1.2" stroke-linecap="round"/>
<polygon points="412.0,848.0 612.0,869.0 568.0,882.0 412.0,861.0" fill="none" stroke="#1c0a00" stroke-width="1.6" stroke-linejoin="round" />
<polygon points="991.0,620.0 991.0,762.0 996.5,762.0 996.5,620.0" fill="#c46c1a" stroke="#c46c1a" stroke-width="0.5" stroke-linejoin="round" />
<polygon points="996.5,620.0 996.5,762.0 1002.0,762.0 1002.0,620.0" fill="#a2540d" stroke="#a2540d" stroke-width="0.5" stroke-linejoin="round" />
<line x1="996.5" y1="620.0" x2="996.5" y2="762.0" stroke="#1c0a00" stroke-width="1.2" stroke-linecap="round"/>
<polygon points="991.0,620.0 991.0,762.0 1002.0,762.0 1002.0,620.0" fill="none" stroke="#1c0a00" stroke-width="1.6" stroke-linejoin="round" />
<polygon points="739.5,490.5 925.0,435.5 923.5,441.7 741.9,494.4" fill="#c46c1a" stroke="#c46c1a" stroke-width="0.5" stroke-linejoin="round" />
<polygon points="741.9,494.4 923.5,441.7 919.5,458.5 748.5,505.0" fill="#a2540d" stroke="#a2540d" stroke-width="0.5" stroke-linejoin="round" />
<line x1="741.9" y1="494.4" x2="923.5" y2="441.7" stroke="#1c0a00" stroke-width="1.2" stroke-linecap="round"/>
<polygon points="739.5,490.5 925.0,435.5 919.5,458.5 748.5,505.0" fill="none" stroke="#1c0a00" stroke-width="1.6" stroke-linejoin="round" />
<polygon points="738.5,488.7 603.5,665.0 610.5,665.8 742.5,495.6" fill="#c46c1a" stroke="#c46c1a" stroke-width="0.5" stroke-linejoin="round" />
<polygon points="742.5,495.6 610.5,665.8 621.0,667.0 748.5,506.0" fill="#a2540d" stroke="#a2540d" stroke-width="0.5" stroke-linejoin="round" />
<line x1="742.5" y1="495.6" x2="610.5" y2="665.8" stroke="#1c0a00" stroke-width="1.2" stroke-linecap="round"/>
<polygon points="738.5,488.7 603.5,665.0 621.0,667.0 748.5,506.0" fill="none" stroke="#1c0a00" stroke-width="1.6" stroke-linejoin="round" />
<polygon points="925.0,435.5 1028.0,545.0 1022.9,550.1 923.4,442.4" fill="#c46c1a" stroke="#c46c1a" stroke-width="0.5" stroke-linejoin="round" />
<polygon points="923.4,442.4 1022.9,550.1 1011.0,562.0 919.5,458.5" fill="#a2540d" stroke="#a2540d" stroke-width="0.5" stroke-linejoin="round" />
<line x1="923.4" y1="442.4" x2="1022.9" y2="550.1" stroke="#1c0a00" stroke-width="1.2" stroke-linecap="round"/>
<polygon points="925.0,435.5 1028.0,545.0 1011.0,562.0 919.5,458.5" fill="none" stroke="#1c0a00" stroke-width="1.6" stroke-linejoin="round" />
<polygon points="252.0,481.5 568.0,663.0 564.8,678.2 250.4,497.9" fill="#a2540d" stroke="#a2540d" stroke-width="0.5" stroke-linejoin="round" />
<polygon points="250.4,497.9 564.8,678.2 564.0,682.0 250.0,502.0" fill="#834200" stroke="#834200" stroke-width="0.5" stroke-linejoin="round" />
<line x1="250.4" y1="497.9" x2="564.8" y2="678.2" stroke="#1c0a00" stroke-width="1.2" stroke-linecap="round"/>
<polygon points="252.0,481.5 568.0,663.0 564.0,682.0 250.0,502.0" fill="none" stroke="#1c0a00" stroke-width="1.6" stroke-linejoin="round" />
<polygon points="572.0,706.0 412.0,906.0 420.1,913.2 583.7,710.5" fill="#c46c1a" stroke="#c46c1a" stroke-width="0.5" stroke-linejoin="round" />
<polygon points="583.7,710.5 420.1,913.2 430.0,922.0 598.0,716.0" fill="#a2540d" stroke="#a2540d" stroke-width="0.5" stroke-linejoin="round" />
<line x1="583.7" y1="710.5" x2="420.1" y2="913.2" stroke="#1c0a00" stroke-width="1.2" stroke-linecap="round"/>
<polygon points="572.0,706.0 412.0,906.0 430.0,922.0 598.0,716.0" fill="none" stroke="#1c0a00" stroke-width="1.6" stroke-linejoin="round" />
<polygon points="732.0,753.5 811.0,800.8 811.0,805.4 732.0,758.8" fill="#c46c1a" stroke="#c46c1a" stroke-width="0.5" stroke-linejoin="round" />
<polygon points="732.0,758.8 811.0,805.4 811.0,810.0 732.0,764.0" fill="#a2540d" stroke="#a2540d" stroke-width="0.5" stroke-linejoin="round" />
<line x1="732.0" y1="758.8" x2="811.0" y2="805.4" stroke="#1c0a00" stroke-width="1.2" stroke-linecap="round"/>
<polygon points="732.0,753.5 811.0,800.8 811.0,810.0 732.0,764.0" fill="none" stroke="#1c0a00" stroke-width="1.6" stroke-linejoin="round" />
<polygon points="635.0,707.5 812.0,810.5 808.9,815.2 629.1,710.2" fill="#c46c1a" stroke="#c46c1a" stroke-width="0.5" stroke-linejoin="round" />
<polygon points="629.1,710.2 808.9,815.2 805.0,821.0 622.0,713.5" fill="#a2540d" stroke="#a2540d" stroke-width="0.5" stroke-linejoin="round" />
<line x1="629.1" y1="710.2" x2="808.9" y2="815.2" stroke="#1c0a00" stroke-width="1.2" stroke-linecap="round"/>
<polygon points="635.0,707.5 812.0,810.5 805.0,821.0 622.0,713.5" fill="none" stroke="#1c0a00" stroke-width="1.6" stroke-linejoin="round" />
<polygon points="1174.6,375.6 1042.0,537.0 1049.8,535.7 1179.0,381.5" fill="#c46c1a" stroke="#c46c1a" stroke-width="0.5" stroke-linejoin="round" />
<polygon points="1179.0,381.5 1049.8,535.7 1061.4,533.8 1185.5,390.3" fill="#a2540d" stroke="#a2540d" stroke-width="0.5" stroke-linejoin="round" />
<line x1="1179.0" y1="381.5" x2="1049.8" y2="535.7" stroke="#1c0a00" stroke-width="1.2" stroke-linecap="round"/>
<polygon points="1174.6,375.6 1042.0,537.0 1061.4,533.8 1185.5,390.3" fill="none" stroke="#1c0a00" stroke-width="1.6" stroke-linejoin="round" />
<polygon points="1088.0,580.0 1088.0,655.0 1093.0,657.5 1093.0,580.0" fill="#c46c1a" stroke="#c46c1a" stroke-width="0.5" stroke-linejoin="round" />
<polygon points="1093.0,580.0 1093.0,657.5 1098.0,660.0 1098.0,580.0" fill="#a2540d" stroke="#a2540d" stroke-width="0.5" stroke-linejoin="round" />
<line x1="1093.0" y1="580.0" x2="1093.0" y2="657.5" stroke="#1c0a00" stroke-width="1.2" stroke-linecap="round"/>
<polygon points="1088.0,580.0 1088.0,655.0 1098.0,660.0 1098.0,580.0" fill="none" stroke="#1c0a00" stroke-width="1.6" stroke-linejoin="round" />
<polygon points="1015.6,610.3 1126.0,674.8 1124.0,678.4 1012.7,613.6" fill="#c46c1a" stroke="#c46c1a" stroke-width="0.5" stroke-linejoin="round" />
<polygon points="1012.7,613.6 1124.0,678.4 1122.0,682.0 1009.8,617.0" fill="#a2540d" stroke="#a2540d" stroke-width="0.5" stroke-linejoin="round" />
<line x1="1012.7" y1="613.6" x2="1124.0" y2="678.4" stroke="#1c0a00" stroke-width="1.2" stroke-linecap="round"/>
<polygon points="1015.6,610.3 1126.0,674.8 1122.0,682.0 1009.8,617.0" fill="none" stroke="#1c0a00" stroke-width="1.6" stroke-linejoin="round" />
<polygon points="1009.8,617.0 1160.0,712.5 1157.3,717.2 1006.1,619.9" fill="#c46c1a" stroke="#c46c1a" stroke-width="0.5" stroke-linejoin="round" />
<polygon points="1006.1,619.9 1157.3,717.2 1154.0,723.0 1001.5,623.5" fill="#a2540d" stroke="#a2540d" stroke-width="0.5" stroke-linejoin="round" />
<line x1="1006.1" y1="619.9" x2="1157.3" y2="717.2" stroke="#1c0a00" stroke-width="1.2" stroke-linecap="round"/>
<polygon points="1009.8,617.0 1160.0,712.5 1154.0,723.0 1001.5,623.5" fill="none" stroke="#1c0a00" stroke-width="1.6" stroke-linejoin="round" />
<polygon points="1104.0,582.0 1164.0,686.0 1167.0,685.0 1107.0,580.0" fill="#c46c1a" stroke="#c46c1a" stroke-width="0.5" stroke-linejoin="round" />
<polygon points="1107.0,580.0 1167.0,685.0 1170.0,684.0 1110.0,578.0" fill="#a2540d" stroke="#a2540d" stroke-width="0.5" stroke-linejoin="round" />
<line x1="1107.0" y1="580.0" x2="1167.0" y2="685.0" stroke="#1c0a00" stroke-width="1.2" stroke-linecap="round"/>
<polygon points="1104.0,582.0 1164.0,686.0 1170.0,684.0 1110.0,578.0" fill="none" stroke="#1c0a00" stroke-width="1.6" stroke-linejoin="round" />
<polygon points="1059.4,583.0 1176.0,705.5 1172.4,711.5 1054.0,587.0" fill="#c46c1a" stroke="#c46c1a" stroke-width="0.5" stroke-linejoin="round" />
<polygon points="1054.0,587.0 1172.4,711.5 1167.0,720.4 1046.0,593.0" fill="#a2540d" stroke="#a2540d" stroke-width="0.5" stroke-linejoin="round" />
<line x1="1054.0" y1="587.0" x2="1172.4" y2="711.5" stroke="#1c0a00" stroke-width="1.2" stroke-linecap="round"/>
<polygon points="1059.4,583.0 1176.0,705.5 1167.0,720.4 1046.0,593.0" fill="none" stroke="#1c0a00" stroke-width="1.6" stroke-linejoin="round" />
<polygon points="402.0,588.0 393.0,934.0 401.6,934.9 411.9,587.1" fill="#c46c1a" stroke="#c46c1a" stroke-width="0.5" stroke-linejoin="round" />
<polygon points="411.9,587.1 401.6,934.9 412.0,936.0 424.0,586.0" fill="#a2540d" stroke="#a2540d" stroke-width="0.5" stroke-linejoin="round" />
<line x1="411.9" y1="587.1" x2="401.6" y2="934.9" stroke="#1c0a00" stroke-width="1.2" stroke-linecap="round"/>
<polygon points="402.0,588.0 393.0,934.0 412.0,936.0 424.0,586.0" fill="none" stroke="#1c0a00" stroke-width="1.6" stroke-linejoin="round" />
<polygon points="402.0,588.0 413.0,584.0 424.0,586.0 413.0,590.0" fill="#c46c1a" stroke="#1c0a00" stroke-width="1.5" stroke-linejoin="round" />
<polygon points="820.5,486.0 831.0,473.0 822.0,816.0 811.0,815.0" fill="#c46c1a" stroke="#1c0a00" stroke-width="1.5" stroke-linejoin="round" />
<polygon points="831.0,473.0 841.5,473.0 833.6,817.0 822.0,816.0" fill="#a2540d" stroke="#1c0a00" stroke-width="1.5" stroke-linejoin="round" />
<line x1="831.0" y1="473.0" x2="822.0" y2="816.0" stroke="#1c0a00" stroke-width="1.1" stroke-linecap="round"/>
<polygon points="1177.0,372.0 1165.0,719.0 1174.9,719.5 1187.3,372.0" fill="#c46c1a" stroke="#c46c1a" stroke-width="0.5" stroke-linejoin="round" />
<polygon points="1187.3,372.0 1174.9,719.5 1187.0,720.0 1200.0,372.0" fill="#a2540d" stroke="#a2540d" stroke-width="0.5" stroke-linejoin="round" />
<line x1="1187.3" y1="372.0" x2="1174.9" y2="719.5" stroke="#1c0a00" stroke-width="1.2" stroke-linecap="round"/>
<polygon points="1177.0,372.0 1165.0,719.0 1187.0,720.0 1200.0,372.0" fill="none" stroke="#1c0a00" stroke-width="1.6" stroke-linejoin="round" />
<polygon points="1177.0,372.0 1189.0,368.0 1200.0,372.0 1188.0,376.0" fill="#c46c1a" stroke="#1c0a00" stroke-width="1.5" stroke-linejoin="round" />
<polygon points="560.0,668.0 620.0,663.8 640.0,712.5 577.5,716.0" fill="#804000" stroke="#1c0a00" stroke-width="1.5" stroke-linejoin="round" />
<polygon points="1013.8,546.0 1067.5,525.0 1053.8,585.0 1000.0,607.5" fill="#804000" stroke="#1c0a00" stroke-width="1.5" stroke-linejoin="round" />
</g>
<g id="g_base">
<polygon points="355.0,941.0 1280.0,686.0 1281.1,690.4 355.9,945.6" fill="#c46c1a" stroke="#c46c1a" stroke-width="0.5" stroke-linejoin="round" />
<polygon points="355.9,945.6 1281.1,690.4 1285.1,705.5 359.2,961.4" fill="#954d07" stroke="#954d07" stroke-width="0.5" stroke-linejoin="round" />
<polygon points="359.2,961.4 1285.1,705.5 1286.0,709.0 360.0,965.0" fill="#a2540d" stroke="#a2540d" stroke-width="0.5" stroke-linejoin="round" />
<line x1="355.9" y1="945.6" x2="1281.1" y2="690.4" stroke="#1c0a00" stroke-width="1.2" stroke-linecap="round"/>
<line x1="359.2" y1="961.4" x2="1285.1" y2="705.5" stroke="#1c0a00" stroke-width="1.2" stroke-linecap="round"/>
<polygon points="355.0,941.0 1280.0,686.0 1286.0,709.0 360.0,965.0" fill="none" stroke="#1c0a00" stroke-width="1.6" stroke-linejoin="round" />
<polygon points="1280.0,686.0 1286.0,689.5 1283.0,691.0 1282.5,706.5 1286.0,709.0 1280.0,708.0" fill="#834200" stroke="#1c0a00" stroke-width="1" stroke-linejoin="round" />
<polygon points="355.0,941.0 359.0,945.0 359.5,960.0 360.0,965.0 356.0,962.0" fill="#834200" stroke="#1c0a00" stroke-width="1" stroke-linejoin="round" />
</g>
</g><!--/drawing-->
<g id="leaders"><line x1="194" y1="368.2" x2="386" y2="368.2" stroke="#111" stroke-width="1.1"/><line x1="194" y1="368.2" x2="150.3" y2="546.5" stroke="#111" stroke-width="1.1"/><polygon points="142,580.5 144.0,545.0 156.6,548.1" fill="#000"/><line x1="1088" y1="173.2" x2="1310.7" y2="173.2" stroke="#111" stroke-width="1.1"/><line x1="1310.7" y1="173.2" x2="1328.3" y2="241.7" stroke="#111" stroke-width="1.1"/><polygon points="1337,275.6 1322.0,243.3 1334.6,240.1" fill="#000"/><line x1="824.4" y1="240" x2="1075.6" y2="240" stroke="#111" stroke-width="1.1"/><line x1="1075.6" y1="240" x2="1194.8" y2="354.5" stroke="#111" stroke-width="1.1"/><polygon points="1220,378.7 1190.3,359.1 1199.3,349.8" fill="#000"/><line x1="961.8" y1="943.9" x2="1335.2" y2="943.9" stroke="#111" stroke-width="1.1"/><line x1="961.8" y1="943.9" x2="874.5" y2="854.4" stroke="#111" stroke-width="1.1"/><polygon points="851.5,830.8 879.2,849.9 869.9,859.0" fill="#000"/></g>
<!-- LABELS -->
<g id="labels">
<text id="t0" x="577" y="79.4" font-size="53.6" textLength="434" lengthAdjust="spacingAndGlyphs">Mining Conveyor</text>
<text id="t1" x="196.5" y="359.6" font-size="37" textLength="194" lengthAdjust="spacingAndGlyphs">Inlet Chute</text>
<text id="t2" x="1084.2" y="164.4" font-size="37" textLength="224" lengthAdjust="spacingAndGlyphs">Outlet Chute</text>
<text id="t3" x="820.2" y="230.6" font-size="37" textLength="252" lengthAdjust="spacingAndGlyphs">Conveyor Belt</text>
<text id="t4" x="964.6" y="935.5" font-size="37" textLength="375" lengthAdjust="spacingAndGlyphs">Supporting Structure</text>
<text id="t5" x="1172.6" y="1110.5" font-size="47.8" textLength="398.5" lengthAdjust="spacingAndGlyphs">IQSdirectory.com</text>
</g>
</svg>
</body></html>
